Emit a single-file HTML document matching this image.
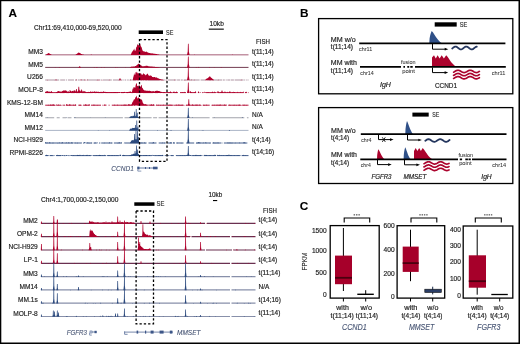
<!DOCTYPE html>
<html><head><meta charset="utf-8"><style>
html,body{margin:0;padding:0;background:#fff;}
body{width:520px;height:344px;overflow:hidden;font-family:"Liberation Sans",sans-serif;}
</style></head><body>
<svg width="520" height="344" viewBox="0 0 520 344" style="display:block;will-change:transform">
<rect x="0" y="0" width="520" height="344" fill="#fff"/>
<g font-family="Liberation Sans, sans-serif">
<text x="8.60" y="16.90" font-size="11.8" fill="#000" font-weight="bold" stroke="#000" stroke-width="0.1" >A</text>
<text x="34.00" y="29.90" font-size="7.4" fill="#1e1e1e" stroke="#1e1e1e" stroke-width="0.18" textLength="87.70" lengthAdjust="spacingAndGlyphs" >Chr11:69,410,000-69,520,000</text>
<rect x="138.7" y="30.4" width="24.3" height="3.6" fill="#000"/>
<text x="166.00" y="34.70" font-size="7.6" fill="#333" stroke="#333" stroke-width="0.18" textLength="7.30" lengthAdjust="spacingAndGlyphs" >SE</text>
<text x="209.50" y="25.70" font-size="7.0" fill="#1e1e1e" stroke="#1e1e1e" stroke-width="0.18" textLength="14.30" lengthAdjust="spacingAndGlyphs" >10kb</text>
<rect x="208.8" y="28.6" width="15" height="1.1" fill="#000"/>
<text x="256.00" y="43.80" font-size="6.6" fill="#1e1e1e" stroke="#1e1e1e" stroke-width="0.18" textLength="14.00" lengthAdjust="spacingAndGlyphs" >FISH</text>
<text x="42.90" y="54.20" font-size="7.4" fill="#1e1e1e" text-anchor="end" stroke="#1e1e1e" stroke-width="0.18" textLength="14.67" lengthAdjust="spacingAndGlyphs" >MM3</text>
<text x="252.00" y="53.60" font-size="6.6" fill="#1e1e1e" stroke="#1e1e1e" stroke-width="0.18" textLength="21.75" lengthAdjust="spacingAndGlyphs" >t(11;14)</text>
<text x="42.90" y="66.80" font-size="7.4" fill="#1e1e1e" text-anchor="end" stroke="#1e1e1e" stroke-width="0.18" textLength="14.67" lengthAdjust="spacingAndGlyphs" >MM5</text>
<text x="252.00" y="66.20" font-size="6.6" fill="#1e1e1e" stroke="#1e1e1e" stroke-width="0.18" textLength="21.75" lengthAdjust="spacingAndGlyphs" >t(11;14)</text>
<text x="42.90" y="79.40" font-size="7.4" fill="#1e1e1e" text-anchor="end" stroke="#1e1e1e" stroke-width="0.18" textLength="15.78" lengthAdjust="spacingAndGlyphs" >U266</text>
<text x="252.00" y="78.80" font-size="6.6" fill="#1e1e1e" stroke="#1e1e1e" stroke-width="0.18" textLength="21.75" lengthAdjust="spacingAndGlyphs" >t(11;14)</text>
<text x="42.90" y="92.00" font-size="7.4" fill="#1e1e1e" text-anchor="end" stroke="#1e1e1e" stroke-width="0.18" textLength="24.57" lengthAdjust="spacingAndGlyphs" >MOLP-8</text>
<text x="252.00" y="91.40" font-size="6.6" fill="#1e1e1e" stroke="#1e1e1e" stroke-width="0.18" textLength="21.75" lengthAdjust="spacingAndGlyphs" >t(11;14)</text>
<text x="42.90" y="104.60" font-size="7.4" fill="#1e1e1e" text-anchor="end" stroke="#1e1e1e" stroke-width="0.18" textLength="35.94" lengthAdjust="spacingAndGlyphs" >KMS-12-BM</text>
<text x="252.00" y="104.00" font-size="6.6" fill="#1e1e1e" stroke="#1e1e1e" stroke-width="0.18" textLength="21.75" lengthAdjust="spacingAndGlyphs" >t(11;14)</text>
<text x="42.90" y="117.20" font-size="7.4" fill="#1e1e1e" text-anchor="end" stroke="#1e1e1e" stroke-width="0.18" textLength="18.34" lengthAdjust="spacingAndGlyphs" >MM14</text>
<text x="252.00" y="116.60" font-size="6.6" fill="#1e1e1e" stroke="#1e1e1e" stroke-width="0.18" textLength="10.75" lengthAdjust="spacingAndGlyphs" >N/A</text>
<text x="42.90" y="129.80" font-size="7.4" fill="#1e1e1e" text-anchor="end" stroke="#1e1e1e" stroke-width="0.18" textLength="18.34" lengthAdjust="spacingAndGlyphs" >MM12</text>
<text x="252.00" y="129.20" font-size="6.6" fill="#1e1e1e" stroke="#1e1e1e" stroke-width="0.18" textLength="10.75" lengthAdjust="spacingAndGlyphs" >N/A</text>
<text x="42.90" y="142.40" font-size="7.4" fill="#1e1e1e" text-anchor="end" stroke="#1e1e1e" stroke-width="0.18" textLength="29.34" lengthAdjust="spacingAndGlyphs" >NCI-H929</text>
<text x="252.00" y="141.80" font-size="6.6" fill="#1e1e1e" stroke="#1e1e1e" stroke-width="0.18" textLength="18.64" lengthAdjust="spacingAndGlyphs" >t(4;14)</text>
<text x="42.90" y="155.00" font-size="7.4" fill="#1e1e1e" text-anchor="end" stroke="#1e1e1e" stroke-width="0.18" textLength="33.38" lengthAdjust="spacingAndGlyphs" >RPMI-8226</text>
<text x="252.00" y="154.40" font-size="6.6" fill="#1e1e1e" stroke="#1e1e1e" stroke-width="0.18" textLength="22.23" lengthAdjust="spacingAndGlyphs" >t(14;16)</text>
<path d="M45.2,54.80H248.5" stroke="#c393a4" stroke-width="1.5" stroke-opacity="1.0" fill="none"/>
<path d="M45.7,55.1L46.2,54.6L46.7,54.3L47.2,53.9L47.7,53.5L48.2,53.2L48.7,53.0L49.2,53.3L49.7,53.7L50.2,53.9L50.7,54.3L51.2,54.6L51.7,55.1ZM75.2,55.1L75.7,54.7L76.2,54.3L76.7,53.9L77.2,53.6L77.7,53.3L78.2,52.8L78.7,52.5L79.2,52.7L79.7,52.9L80.2,53.3L80.7,53.6L81.2,53.9L81.7,54.1L82.2,54.4L82.7,54.6L83.2,54.6L83.7,54.7L84.2,55.1ZM90.7,55.1L91.2,54.3L91.7,55.1ZM130.7,55.1L131.2,53.8L131.7,52.6L132.2,51.7L132.7,51.0L133.2,50.6L133.7,49.8L134.2,48.6L134.7,50.5L135.2,51.1L135.7,49.9L136.2,47.3L136.7,47.0L137.2,45.1L137.7,44.1L138.2,45.3L138.7,45.3L139.2,44.2L139.7,44.4L140.2,44.1L140.7,46.0L141.2,46.7L141.7,47.4L142.2,49.4L142.7,50.8L143.2,51.2L143.7,51.3L144.2,51.6L144.7,51.4L145.2,51.7L145.7,52.0L146.2,51.8L146.7,51.6L147.2,52.0L147.7,52.4L148.2,52.7L148.7,52.8L149.2,52.9L149.7,53.0L150.2,53.2L150.7,53.2L151.2,53.3L151.7,53.4L152.2,53.3L152.7,53.4L153.2,53.6L153.7,53.8L154.2,53.7L154.7,53.7L155.2,53.7L155.7,53.9L156.2,54.0L156.7,54.1L157.2,54.2L157.7,54.4L158.2,54.4L158.7,54.6L159.2,54.7L159.7,55.1ZM194.2,55.1L194.7,54.5L195.2,55.1ZM232.2,55.1L232.7,54.6L233.2,55.1ZM187.00,55.1L187.72,51.50L187.95,43.80L188.65,43.80L188.89,51.50L189.60,55.1Z" fill="#b0002c"/>
<path d="M45.2,67.40H248.5" stroke="#6a3048" stroke-width="0.95" stroke-opacity="1.0" fill="none"/>
<path d="M54.7,67.7L55.2,67.2L55.7,67.7ZM58.7,67.7L59.2,67.1L59.7,67.7ZM93.7,67.7L94.2,67.1L94.7,67.7ZM96.2,67.7L96.7,67.0L97.2,67.2L97.7,67.7ZM101.2,67.7L101.7,67.1L102.2,67.7ZM103.7,67.7L104.2,67.1L104.7,67.7ZM115.2,67.7L115.7,67.0L116.2,67.7ZM116.7,67.7L117.2,67.2L117.7,67.7ZM125.2,67.7L125.7,67.2L126.2,67.7ZM129.7,67.7L130.2,67.3L130.7,67.0L131.2,66.6L131.7,66.7L132.2,66.7L132.7,66.6L133.2,66.6L133.7,66.5L134.2,66.5L134.7,66.4L135.2,66.0L135.7,65.9L136.2,65.7L136.7,65.2L137.2,64.8L137.7,64.5L138.2,64.1L138.7,63.6L139.2,64.3L139.7,64.1L140.2,64.8L140.7,65.3L141.2,65.5L141.7,65.7L142.2,65.9L142.7,66.4L143.2,66.3L143.7,66.3L144.2,66.3L144.7,66.0L145.2,66.2L145.7,65.8L146.2,65.7L146.7,65.7L147.2,65.7L147.7,66.1L148.2,66.2L148.7,66.3L149.2,66.3L149.7,66.4L150.2,66.4L150.7,66.6L151.2,66.5L151.7,66.5L152.2,66.7L152.7,66.6L153.2,66.7L153.7,66.8L154.2,66.8L154.7,66.8L155.2,66.9L155.7,66.9L156.2,67.0L156.7,67.0L157.2,67.1L157.7,67.2L158.2,67.2L158.7,67.3L159.2,67.3L159.7,67.7ZM184.7,67.7L185.2,67.0L185.7,67.7ZM195.7,67.7L196.2,67.1L196.7,67.7ZM198.2,67.7L198.7,66.8L199.2,67.7ZM209.2,67.7L209.7,67.1L210.2,67.7ZM213.7,67.7L214.2,67.2L214.7,67.7ZM220.7,67.7L221.2,67.0L221.7,67.7ZM78.20,67.7L79.03,67.04L79.35,66.20L80.05,66.20L80.38,67.04L81.20,67.7ZM187.00,67.7L187.72,64.10L187.95,56.40L188.65,56.40L188.89,64.10L189.60,67.7Z" fill="#b0002c"/>
<path d="M45.2,80.00H59.2M60.2,80.00H65.2M66.1,80.00H67.1M68.0,80.00H74.0M75.0,80.00H77.0M77.8,80.00H79.8M80.6,80.00H85.6M86.7,80.00H98.7M99.3,80.00H100.3M100.9,80.00H101.9M102.8,80.00H111.8M112.9,80.00H119.9M120.5,80.00H122.5M123.4,80.00H124.4M125.0,80.00H126.0M126.8,80.00H127.8M128.3,80.00H129.3M129.9,80.00H131.9M132.4,80.00H136.4M137.2,80.00H139.2M140.4,80.00H142.4M143.2,80.00H144.2M145.2,80.00H147.2M147.7,80.00H159.7M160.7,80.00H163.7M164.2,80.00H165.2M165.8,80.00H166.8M167.4,80.00H176.4M177.1,80.00H180.1M180.8,80.00H182.8M183.6,80.00H187.6M188.6,80.00H199.6M200.6,80.00H205.6M206.6,80.00H207.6M208.4,80.00H211.4M212.1,80.00H222.1M222.8,80.00H224.8M225.7,80.00H226.7M227.3,80.00H230.3M230.9,80.00H233.9M234.6,80.00H243.6M244.2,80.00H245.2M246.3,80.00H247.3M247.8,80.00H248.5" stroke="#b096a4" stroke-width="1.2" stroke-opacity="1.0" fill="none"/>
<path d="M47.2,80.3L47.7,79.7L48.2,80.3ZM54.7,80.3L55.2,79.3L55.7,80.3ZM56.2,80.3L56.7,79.2L57.2,80.3ZM75.7,80.3L76.2,79.2L76.7,80.3ZM80.2,80.3L80.7,79.4L81.2,79.3L81.7,80.3ZM84.2,80.3L84.7,79.4L85.2,79.7L85.7,80.3ZM86.7,80.3L87.2,79.2L87.7,80.3ZM96.7,80.3L97.2,79.6L97.7,80.3ZM97.7,80.3L98.2,79.4L98.7,80.3ZM98.7,80.3L99.2,79.4L99.7,80.3ZM101.7,80.3L102.2,79.7L102.7,80.3ZM108.7,80.3L109.2,79.5L109.7,80.3ZM129.7,80.3L130.2,79.2L130.7,80.3ZM132.7,80.3L133.2,77.6L133.7,75.7L134.2,73.1L134.7,74.9L135.2,74.7L135.7,71.9L136.2,71.7L136.7,72.5L137.2,73.8L137.7,72.2L138.2,73.0L138.7,73.4L139.2,73.4L139.7,74.0L140.2,73.1L140.7,73.7L141.2,73.5L141.7,74.7L142.2,75.1L142.7,74.5L143.2,72.9L143.7,73.8L144.2,74.3L144.7,73.9L145.2,75.6L145.7,75.0L146.2,73.9L146.7,75.3L147.2,73.6L147.7,73.8L148.2,74.8L148.7,75.4L149.2,75.7L149.7,75.7L150.2,75.4L150.7,75.6L151.2,75.8L151.7,76.0L152.2,77.0L152.7,77.1L153.2,77.0L153.7,77.2L154.2,76.9L154.7,76.9L155.2,77.2L155.7,77.7L156.2,77.1L156.7,77.8L157.2,77.8L157.7,78.3L158.2,78.3L158.7,78.5L159.2,78.7L159.7,78.9L160.2,79.1L160.7,79.2L161.2,79.4L161.7,79.4L162.2,79.6L162.7,79.7L163.2,79.8L163.7,79.9L164.2,80.3ZM165.7,80.3L166.2,79.7L166.7,80.3ZM174.2,80.3L174.7,79.6L175.2,80.3ZM183.7,80.3L184.2,79.7L184.7,80.3ZM184.7,80.3L185.2,79.7L185.7,80.3ZM186.7,80.3L187.2,79.2L187.7,80.3ZM190.7,80.3L191.2,79.3L191.7,80.3ZM193.7,80.3L194.2,79.6L194.7,80.3ZM204.7,80.3L205.2,79.9L205.7,79.3L206.2,78.9L206.7,78.5L207.2,78.4L207.7,78.1L208.2,77.7L208.7,77.3L209.2,76.4L209.7,76.4L210.2,76.5L210.7,77.3L211.2,77.8L211.7,77.9L212.2,78.4L212.7,79.1L213.2,79.2L213.7,79.8L214.2,80.3ZM217.7,80.3L218.2,79.5L218.7,80.3ZM240.7,80.3L241.2,79.6L241.7,80.3ZM118.50,80.3L119.33,79.46L119.65,78.20L120.35,78.20L120.67,79.46L121.50,80.3ZM187.00,80.3L187.72,76.31L187.95,67.70L188.65,67.70L188.89,76.31L189.60,80.3Z" fill="#b0002c"/>
<path d="M45.2,92.60H58.2M59.6,92.60H64.6M66.2,92.60H69.2M70.9,92.60H74.9M76.0,92.60H80.0M81.6,92.60H92.6M94.5,92.60H96.5M97.6,92.60H103.6M105.2,92.60H118.2M121.0,92.60H124.0M126.4,92.60H128.4M131.1,92.60H133.1M136.0,92.60H141.0M142.9,92.60H152.9M155.0,92.60H158.0M159.8,92.60H160.8M162.7,92.60H172.7M173.7,92.60H177.7M180.0,92.60H186.0M187.8,92.60H188.8M190.1,92.60H196.1M198.3,92.60H199.3M202.2,92.60H203.2M205.8,92.60H215.8M217.7,92.60H243.7M244.9,92.60H246.9M247.9,92.60H248.5" stroke="#b0002c" stroke-width="1.0" stroke-opacity="0.9" fill="none"/>
<path d="M45.2,92.9L45.2,91.5L45.7,92.0L46.2,91.3L46.7,91.5L47.2,91.0L47.7,91.2L48.2,91.6L48.7,91.8L49.2,91.7L49.7,91.4L50.2,92.1L50.7,91.7L51.2,91.2L51.7,91.1L52.2,92.3L52.7,92.9ZM55.7,92.9L56.2,92.4L56.7,92.1L57.2,91.9L57.7,91.1L58.2,91.1L58.7,91.1L59.2,92.0L59.7,90.7L60.2,91.7L60.7,91.5L61.2,91.3L61.7,92.0L62.2,90.8L62.7,91.2L63.2,90.5L63.7,90.4L64.2,90.3L64.7,90.8L65.2,90.4L65.7,90.3L66.2,92.0L66.7,90.7L67.2,91.8L67.7,91.4L68.2,91.5L68.7,91.3L69.2,91.9L69.7,91.7L70.2,91.4L70.7,91.1L71.2,91.3L71.7,91.4L72.2,91.0L72.7,90.9L73.2,90.2L73.7,91.6L74.2,90.8L74.7,90.0L75.2,90.2L75.7,91.7L76.2,90.4L76.7,90.7L77.2,91.3L77.7,91.7L78.2,90.6L78.7,90.8L79.2,90.9L79.7,90.1L80.2,91.7L80.7,90.2L81.2,91.9L81.7,90.5L82.2,90.5L82.7,91.8L83.2,91.7L83.7,90.7L84.2,91.3L84.7,91.2L85.2,91.7L85.7,91.5L86.2,92.3L86.7,92.4L87.2,92.1L87.7,92.3L88.2,92.2L88.7,91.7L89.2,92.1L89.7,92.1L90.2,91.8L90.7,91.2L91.2,91.8L91.7,92.1L92.2,91.4L92.7,91.8L93.2,92.1L93.7,91.8L94.2,91.1L94.7,91.8L95.2,91.4L95.7,92.1L96.2,91.8L96.7,91.4L97.2,92.1L97.7,91.8L98.2,91.5L98.7,92.0L99.2,92.1L99.7,92.1L100.2,92.1L100.7,91.8L101.2,91.9L101.7,91.8L102.2,91.7L102.7,92.2L103.2,91.5L103.7,91.2L104.2,91.9L104.7,91.7L105.2,91.8L105.7,92.1L106.2,92.0L106.7,92.0L107.2,91.9L107.7,92.3L108.2,92.4L108.7,92.3L109.2,91.9L109.7,92.4L110.2,92.3L110.7,92.2L111.2,91.9L111.7,92.3L112.2,92.2L112.7,92.2L113.2,91.9L113.7,92.3L114.2,91.9L114.7,92.1L115.2,91.9L115.7,92.1L116.2,92.3L116.7,92.3L117.2,92.3L117.7,92.0L118.2,92.1L118.7,92.2L119.2,91.9L119.7,92.1L120.2,92.4L120.7,92.3L121.2,92.3L121.7,92.0L122.2,92.2L122.7,92.3L123.2,92.2L123.7,92.1L124.2,91.9L124.7,91.8L125.2,92.3L125.7,92.3L126.2,91.9L126.7,92.2L127.2,91.9L127.7,92.0L128.2,92.2L128.7,91.7L129.2,91.9L129.7,91.5L130.2,91.7L130.7,91.2L131.2,92.1L131.7,92.9ZM131.7,92.9L132.2,90.8L132.7,88.6L133.2,88.7L133.7,86.8L134.2,88.0L134.7,86.8L135.2,88.0L135.7,85.1L136.2,83.7L136.7,82.8L137.2,85.9L137.7,86.0L138.2,86.6L138.7,85.5L139.2,84.8L139.7,85.9L140.2,86.4L140.7,87.1L141.2,84.7L141.7,85.2L142.2,88.0L142.7,88.0L143.2,89.7L143.7,89.5L144.2,90.2L144.7,90.4L145.2,90.8L145.7,90.3L146.2,91.0L146.7,90.6L147.2,91.0L147.7,90.6L148.2,91.1L148.7,90.8L149.2,90.8L149.7,90.8L150.2,91.0L150.7,91.0L151.2,91.4L151.7,91.2L152.2,91.1L152.7,91.5L153.2,91.1L153.7,91.2L154.2,91.4L154.7,91.4L155.2,91.1L155.7,91.1L156.2,90.4L156.7,90.9L157.2,90.7L157.7,90.8L158.2,91.1L158.7,90.9L159.2,91.1L159.7,91.3L160.2,91.6L160.7,91.7L161.2,91.8L161.7,91.9L162.2,92.0L162.7,92.2L163.2,91.9L163.7,92.3L164.2,92.1L164.7,92.0L165.2,92.9ZM165.7,92.9L166.2,92.1L166.7,92.9ZM167.2,92.9L167.7,92.1L168.2,92.0L168.7,92.9ZM168.7,92.9L169.2,92.1L169.7,92.9ZM169.7,92.9L170.2,91.0L170.7,91.7L171.2,92.9ZM172.7,92.9L173.2,91.8L173.7,91.8L174.2,91.2L174.7,92.9ZM175.2,92.9L175.7,92.0L176.2,92.0L176.7,91.2L177.2,92.1L177.7,92.9ZM181.7,92.9L182.2,92.0L182.7,92.9ZM183.7,92.9L184.2,91.5L184.7,92.9ZM187.2,92.9L187.7,91.1L188.2,92.9ZM188.2,92.9L188.7,91.0L189.2,92.9ZM189.7,92.9L190.2,91.2L190.7,91.1L191.2,92.9ZM191.2,92.9L191.7,92.0L192.2,92.9ZM193.7,92.9L194.2,92.1L194.7,92.9ZM194.7,92.9L195.2,91.2L195.7,91.3L196.2,92.9ZM197.7,92.9L198.2,91.5L198.7,91.2L199.2,92.9ZM200.2,92.9L200.7,92.1L201.2,92.9ZM202.7,92.9L203.2,91.9L203.7,92.9ZM204.2,92.9L204.7,91.3L205.2,92.9ZM205.2,92.9L205.7,91.7L206.2,92.9ZM206.7,92.9L207.2,92.0L207.7,92.9ZM208.2,92.9L208.7,92.1L209.2,92.9ZM211.7,92.9L212.2,91.2L212.7,91.9L213.2,92.9ZM214.2,92.9L214.7,91.2L215.2,92.1L215.7,92.9ZM215.7,92.9L216.2,91.7L216.7,92.9ZM217.2,92.9L217.7,91.9L218.2,92.9ZM219.7,92.9L220.2,92.0L220.7,92.9ZM223.7,92.9L224.2,91.1L224.7,92.9ZM225.2,92.9L225.7,91.2L226.2,92.9ZM227.2,92.9L227.7,91.4L228.2,92.9ZM228.7,92.9L229.2,92.1L229.7,91.3L230.2,91.2L230.7,92.9ZM232.2,92.9L232.7,91.8L233.2,92.9ZM233.2,92.9L233.7,91.5L234.2,91.9L234.7,92.1L235.2,92.9ZM237.2,92.9L237.7,91.6L238.2,92.9ZM240.2,92.9L240.7,91.5L241.2,92.9ZM242.7,92.9L243.2,91.1L243.7,92.9ZM245.2,92.9L245.7,92.0L246.2,91.6L246.7,92.9ZM77.30,92.9L78.12,90.86L78.45,86.80L79.15,86.80L79.47,90.86L80.30,92.9ZM75.30,92.9L75.96,91.55L76.15,89.10L76.85,89.10L77.04,91.55L77.70,92.9ZM80.30,92.9L80.96,91.70L81.15,89.60L81.85,89.60L82.04,91.70L82.70,92.9ZM69.00,92.9L69.50,91.85L69.65,90.10L70.35,90.10L70.50,91.85L71.00,92.9ZM65.00,92.9L65.50,92.00L65.65,90.60L66.35,90.60L66.50,92.00L67.00,92.9ZM187.00,92.9L187.72,89.60L187.95,82.60L188.65,82.60L188.89,89.60L189.60,92.9ZM220.50,92.9L221.32,91.94L221.65,90.40L222.35,90.40L222.68,91.94L223.50,92.9ZM216.80,92.9L217.46,92.15L217.65,91.10L218.35,91.10L218.54,92.15L219.20,92.9Z" fill="#b0002c"/>
<path d="M45.2,105.20H55.2M56.5,105.20H60.5M63.1,105.20H65.1M66.2,105.20H76.2M78.3,105.20H81.3M83.4,105.20H89.4M91.0,105.20H101.0M103.7,105.20H105.7M108.6,105.20H109.6M111.8,105.20H132.8M134.1,105.20H135.1M137.5,105.20H147.5M149.6,105.20H154.6M156.2,105.20H173.2M174.4,105.20H183.4M185.9,105.20H200.9M202.7,105.20H209.7M212.0,105.20H226.0M228.2,105.20H241.2M242.4,105.20H248.5" stroke="#b0002c" stroke-width="1.0" stroke-opacity="0.9" fill="none"/>
<path d="M47.7,105.5L48.2,104.6L48.7,105.5ZM49.7,105.5L50.2,104.6L50.7,104.5L51.2,105.5ZM51.2,105.5L51.7,104.8L52.2,104.1L52.7,105.5ZM52.7,105.5L53.2,104.2L53.7,104.4L54.2,104.8L54.7,105.5ZM54.7,105.5L55.2,104.8L55.7,105.5ZM56.2,105.5L56.7,104.0L57.2,105.5ZM57.7,105.5L58.2,104.1L58.7,105.5ZM59.7,105.5L60.2,104.7L60.7,104.8L61.2,104.7L61.7,105.5ZM61.7,105.5L62.2,104.4L62.7,105.5ZM65.7,105.5L66.2,104.0L66.7,104.3L67.2,105.5ZM67.2,105.5L67.7,104.3L68.2,105.5ZM68.7,105.5L69.2,104.8L69.7,104.1L70.2,104.3L70.7,105.5ZM73.2,105.5L73.7,104.3L74.2,105.5ZM74.7,105.5L75.2,104.1L75.7,104.7L76.2,105.5ZM79.2,105.5L79.7,104.8L80.2,104.4L80.7,105.5ZM80.7,105.5L81.2,104.8L81.7,105.5ZM82.7,105.5L83.2,104.5L83.7,105.5ZM84.7,105.5L85.2,104.1L85.7,104.5L86.2,105.5ZM86.2,105.5L86.7,104.3L87.2,105.5ZM88.2,105.5L88.7,104.6L89.2,104.2L89.7,104.6L90.2,105.5ZM93.2,105.5L93.7,104.6L94.2,104.6L94.7,105.5ZM96.7,105.5L97.2,104.7L97.7,105.5ZM102.2,105.5L102.7,104.6L103.2,105.5ZM103.7,105.5L104.2,104.1L104.7,105.5ZM105.2,105.5L105.7,104.5L106.2,104.4L106.7,105.5ZM114.2,105.5L114.7,104.2L115.2,105.5ZM117.2,105.5L117.7,104.3L118.2,105.5ZM121.2,105.5L121.7,104.8L122.2,105.5ZM122.7,105.5L123.2,104.4L123.7,105.5ZM123.7,105.5L124.2,104.6L124.7,104.8L125.2,104.7L125.7,104.8L126.2,104.6L126.7,105.5ZM127.7,105.5L128.2,104.1L128.7,104.6L129.2,104.6L129.7,104.2L130.2,105.5ZM130.2,105.5L130.7,104.4L131.2,104.5L131.7,104.5L132.2,102.8L132.7,101.7L133.2,101.2L133.7,99.7L134.2,99.3L134.7,99.5L135.2,97.9L135.7,97.1L136.2,96.7L136.7,95.4L137.2,98.0L137.7,98.8L138.2,97.6L138.7,97.4L139.2,97.9L139.7,98.8L140.2,98.8L140.7,99.4L141.2,99.6L141.7,99.6L142.2,100.5L142.7,102.4L143.2,103.2L143.7,104.1L144.2,104.2L144.7,104.3L145.2,104.3L145.7,104.0L146.2,104.5L146.7,104.7L147.2,104.7L147.7,104.8L148.2,104.9L148.7,104.6L149.2,104.4L149.7,105.1L150.2,104.3L150.7,105.5ZM150.7,105.5L151.2,104.5L151.7,104.1L152.2,105.5ZM152.2,105.5L152.7,104.7L153.2,104.0L153.7,104.4L154.2,105.5ZM155.7,105.5L156.2,104.3L156.7,105.5ZM157.7,105.5L158.2,104.5L158.7,105.5ZM160.2,105.5L160.7,104.7L161.2,105.5ZM162.7,105.5L163.2,104.3L163.7,105.5ZM167.7,105.5L168.2,104.7L168.7,105.5ZM168.7,105.5L169.2,104.2L169.7,105.5ZM170.2,105.5L170.7,104.3L171.2,105.5ZM171.2,105.5L171.7,104.6L172.2,105.5ZM173.2,105.5L173.7,104.5L174.2,105.5ZM174.2,105.5L174.7,104.7L175.2,105.5ZM176.2,105.5L176.7,104.3L177.2,105.5ZM178.2,105.5L178.7,104.2L179.2,104.4L179.7,105.5ZM180.2,105.5L180.7,104.7L181.2,105.5ZM181.2,105.5L181.7,104.4L182.2,105.5ZM182.2,105.5L182.7,104.4L183.2,104.8L183.7,105.5ZM183.7,105.5L184.2,104.8L184.7,105.5ZM185.7,105.5L186.2,104.6L186.7,105.5ZM188.7,105.5L189.2,104.4L189.7,104.4L190.2,105.5ZM191.7,105.5L192.2,104.5L192.7,104.3L193.2,105.5ZM193.2,105.5L193.7,104.7L194.2,105.5ZM194.7,105.5L195.2,104.3L195.7,105.5ZM195.7,105.5L196.2,104.4L196.7,104.8L197.2,105.5ZM197.2,105.5L197.7,104.2L198.2,105.5ZM199.2,105.5L199.7,104.3L200.2,104.8L200.7,105.5ZM201.2,105.5L201.7,104.8L202.2,105.5ZM203.2,105.5L203.7,104.4L204.2,105.5ZM204.2,105.5L204.7,104.7L205.2,105.5ZM206.2,105.5L206.7,104.2L207.2,105.5ZM211.2,105.5L211.7,104.8L212.2,104.8L212.7,105.5ZM213.7,105.5L214.2,104.6L214.7,105.5ZM216.2,105.5L216.7,104.8L217.2,104.6L217.7,105.5ZM218.2,105.5L218.7,104.7L219.2,104.8L219.7,104.7L220.2,105.5ZM220.2,105.5L220.7,104.1L221.2,105.5ZM223.7,105.5L224.2,104.4L224.7,104.4L225.2,105.5ZM225.2,105.5L225.7,104.8L226.2,104.7L226.7,104.6L227.2,105.5ZM228.7,105.5L229.2,104.3L229.7,105.5ZM229.7,105.5L230.2,104.7L230.7,105.5ZM232.7,105.5L233.2,104.8L233.7,105.5ZM234.2,105.5L234.7,104.5L235.2,105.5ZM236.2,105.5L236.7,104.8L237.2,105.5ZM238.2,105.5L238.7,104.7L239.2,104.6L239.7,104.7L240.2,105.5ZM240.7,105.5L241.2,104.8L241.7,105.5ZM241.7,105.5L242.2,104.5L242.7,105.5ZM243.2,105.5L243.7,104.7L244.2,104.5L244.7,105.5ZM245.7,105.5L246.2,104.8L246.7,105.5ZM187.60,105.5L188.26,103.40L188.45,99.20L189.15,99.20L189.34,103.40L190.00,105.5Z" fill="#b0002c"/>
<path d="M45.2,117.80H54.2M56.7,117.80H59.7M62.5,117.80H66.5M67.5,117.80H71.5M73.9,117.80H122.9M124.5,117.80H136.5M137.6,117.80H151.6M153.1,117.80H157.1M158.6,117.80H209.6M212.3,117.80H244.3M246.9,117.80H248.5" stroke="#a2a4ac" stroke-width="1.1" stroke-opacity="1.0" fill="none"/>
<path d="M46.7,118.1L47.2,117.5L47.7,118.1ZM66.2,118.1L66.7,117.6L67.2,118.1ZM74.2,118.1L74.7,117.5L75.2,117.6L75.7,118.1ZM90.2,118.1L90.7,117.7L91.2,118.1ZM104.7,118.1L105.2,117.6L105.7,118.1ZM129.2,118.1L129.7,117.1L130.2,116.5L130.7,116.4L131.2,116.0L131.7,116.3L132.2,116.5L132.7,115.8L133.2,115.9L133.7,115.4L134.2,116.4L134.7,116.5L135.2,116.3L135.7,116.2L136.2,115.9L136.7,115.9L137.2,116.4L137.7,116.6L138.2,117.0L138.7,117.3L139.2,117.6L139.7,118.1ZM188.7,118.1L189.2,117.4L189.7,118.1ZM191.7,118.1L192.2,117.7L192.7,117.5L193.2,118.1ZM213.7,118.1L214.2,117.6L214.7,118.1ZM241.7,118.1L242.2,117.4L242.7,117.4L243.2,118.1ZM133.70,118.1L134.10,116.00L134.25,111.80L134.95,111.80L135.10,116.00L135.50,118.1ZM135.30,118.1L135.70,115.16L135.85,109.00L136.55,109.00L136.70,115.16L137.10,118.1ZM136.50,118.1L136.80,116.30L136.95,112.80L137.65,112.80L137.80,116.30L138.10,118.1ZM187.10,118.1L187.76,114.80L187.95,107.80L188.65,107.80L188.84,114.80L189.50,118.1Z" fill="#2c4a7e"/>
<path d="M45.2,130.40H248.5" stroke="#aab4c6" stroke-width="1.0" stroke-opacity="1.0" fill="none"/>
<path d="M97.7,130.7L98.2,130.2L98.7,130.7ZM109.2,130.7L109.7,130.3L110.2,130.7ZM129.2,130.7L129.7,129.6L130.2,128.8L130.7,128.4L131.2,129.0L131.7,128.3L132.2,128.2L132.7,127.7L133.2,128.0L133.7,128.1L134.2,128.0L134.7,127.7L135.2,128.2L135.7,127.8L136.2,128.2L136.7,128.2L137.2,128.6L137.7,128.4L138.2,128.7L138.7,129.5L139.2,130.0L139.7,130.7ZM157.2,130.7L157.7,130.0L158.2,130.7ZM169.7,130.7L170.2,130.2L170.7,130.7ZM170.7,130.7L171.2,130.1L171.7,130.7ZM201.7,130.7L202.2,130.2L202.7,130.7ZM202.7,130.7L203.2,130.2L203.7,130.7ZM228.7,130.7L229.2,130.2L229.7,130.1L230.2,130.7ZM134.50,130.7L134.90,128.75L135.05,124.90L135.75,124.90L135.90,128.75L136.30,130.7ZM135.90,130.7L136.30,127.40L136.45,120.40L137.15,120.40L137.30,127.40L137.70,130.7ZM137.20,130.7L137.50,129.20L137.65,126.40L138.35,126.40L138.50,129.20L138.80,130.7ZM187.10,130.7L187.76,126.95L187.95,118.90L188.65,118.90L188.84,126.95L189.50,130.7Z" fill="#2c4a7e"/>
<path d="M45.2,143.00H73.2M74.4,143.00H81.4M83.1,143.00H84.1M86.2,143.00H92.2M93.6,143.00H96.6M99.3,143.00H100.3M101.5,143.00H112.5M113.9,143.00H121.9M124.6,143.00H146.6M148.5,143.00H156.5M158.7,143.00H165.7M167.9,143.00H171.9M172.9,143.00H174.9M176.2,143.00H183.2M186.2,143.00H194.2M196.0,143.00H211.0M212.5,143.00H221.5M223.9,143.00H246.9M248.5,143.00H248.5" stroke="#2c4a7e" stroke-width="1.0" stroke-opacity="0.9" fill="none"/>
<path d="M45.2,143.3L45.2,142.0L45.7,142.3L46.2,142.6L46.7,143.3ZM46.7,143.3L47.2,142.3L47.7,143.3ZM48.7,143.3L49.2,142.2L49.7,142.6L50.2,142.6L50.7,143.3ZM51.7,143.3L52.2,142.6L52.7,143.3ZM52.7,143.3L53.2,142.4L53.7,143.3ZM57.2,143.3L57.7,142.7L58.2,143.3ZM58.7,143.3L59.2,142.1L59.7,143.3ZM60.7,143.3L61.2,142.6L61.7,143.3ZM61.7,143.3L62.2,142.2L62.7,142.3L63.2,143.3ZM64.7,143.3L65.2,142.7L65.7,143.3ZM66.2,143.3L66.7,142.1L67.2,143.3ZM67.7,143.3L68.2,142.6L68.7,142.6L69.2,142.5L69.7,143.3ZM70.7,143.3L71.2,142.5L71.7,142.3L72.2,143.3ZM72.2,143.3L72.7,142.2L73.2,143.3ZM73.2,143.3L73.7,142.2L74.2,143.3ZM74.2,143.3L74.7,142.5L75.2,142.5L75.7,143.3ZM76.7,143.3L77.2,142.7L77.7,142.7L78.2,143.3ZM80.7,143.3L81.2,142.7L81.7,142.5L82.2,143.3ZM83.7,143.3L84.2,142.2L84.7,142.1L85.2,142.0L85.7,143.3ZM86.7,143.3L87.2,142.0L87.7,143.3ZM87.7,143.3L88.2,142.4L88.7,143.3ZM89.2,143.3L89.7,142.7L90.2,143.3ZM90.7,143.3L91.2,142.5L91.7,143.3ZM93.7,143.3L94.2,142.6L94.7,143.3ZM94.7,143.3L95.2,142.3L95.7,143.3ZM96.2,143.3L96.7,142.5L97.2,143.3ZM97.2,143.3L97.7,142.0L98.2,143.3ZM99.2,143.3L99.7,142.6L100.2,143.3ZM101.2,143.3L101.7,142.4L102.2,143.3ZM103.7,143.3L104.2,142.6L104.7,143.3ZM108.7,143.3L109.2,142.2L109.7,142.5L110.2,143.3ZM111.2,143.3L111.7,142.4L112.2,143.3ZM117.2,143.3L117.7,142.7L118.2,143.3ZM118.2,143.3L118.7,142.5L119.2,142.2L119.7,142.6L120.2,143.3ZM120.7,143.3L121.2,142.1L121.7,143.3ZM123.7,143.3L124.2,142.2L124.7,143.3ZM129.7,143.3L130.2,142.4L130.7,141.7L131.2,141.1L131.7,140.3L132.2,140.1L132.7,140.3L133.2,140.4L133.7,139.7L134.2,139.8L134.7,139.7L135.2,139.2L135.7,139.1L136.2,138.9L136.7,139.2L137.2,139.4L137.7,140.2L138.2,139.6L138.7,140.5L139.2,141.9L139.7,142.2L140.2,142.7L140.7,143.3ZM140.7,143.3L141.2,142.3L141.7,143.3ZM141.7,143.3L142.2,142.6L142.7,143.3ZM143.7,143.3L144.2,142.6L144.7,142.6L145.2,143.3ZM145.2,143.3L145.7,142.7L146.2,143.3ZM151.7,143.3L152.2,142.6L152.7,143.3ZM152.7,143.3L153.2,142.2L153.7,142.1L154.2,143.3ZM161.7,143.3L162.2,142.2L162.7,143.3ZM164.2,143.3L164.7,142.6L165.2,143.3ZM166.7,143.3L167.2,142.5L167.7,142.5L168.2,143.3ZM169.7,143.3L170.2,142.3L170.7,142.6L171.2,143.3ZM171.2,143.3L171.7,142.0L172.2,143.3ZM173.2,143.3L173.7,142.0L174.2,142.4L174.7,143.3ZM177.2,143.3L177.7,142.6L178.2,143.3ZM180.7,143.3L181.2,142.7L181.7,143.3ZM182.7,143.3L183.2,142.6L183.7,143.3ZM187.7,143.3L188.2,142.2L188.7,142.1L189.2,143.3ZM195.7,143.3L196.2,142.7L196.7,143.3ZM196.7,143.3L197.2,142.2L197.7,143.3ZM197.7,143.3L198.2,142.3L198.7,142.1L199.2,142.7L199.7,142.3L200.2,142.6L200.7,143.3ZM202.7,143.3L203.2,142.2L203.7,143.3ZM205.2,143.3L205.7,142.0L206.2,142.4L206.7,143.3ZM209.2,143.3L209.7,142.7L210.2,143.3ZM212.7,143.3L213.2,142.3L213.7,142.7L214.2,142.5L214.7,143.3ZM214.7,143.3L215.2,142.5L215.7,143.3ZM215.7,143.3L216.2,142.4L216.7,143.3ZM217.2,143.3L217.7,142.3L218.2,143.3ZM218.2,143.3L218.7,142.2L219.2,143.3ZM222.2,143.3L222.7,142.6L223.2,143.3ZM227.2,143.3L227.7,142.2L228.2,143.3ZM228.2,143.3L228.7,142.6L229.2,142.3L229.7,143.3ZM229.7,143.3L230.2,142.3L230.7,143.3ZM230.7,143.3L231.2,142.5L231.7,143.3ZM231.7,143.3L232.2,142.6L232.7,143.3ZM234.7,143.3L235.2,142.5L235.7,143.3ZM239.2,143.3L239.7,142.2L240.2,143.3ZM243.2,143.3L243.7,142.0L244.2,142.4L244.7,142.3L245.2,142.6L245.7,143.3ZM246.7,143.3L247.2,142.5L247.7,143.3ZM133.60,143.3L134.00,140.30L134.15,134.00L134.85,134.00L135.00,140.30L135.40,143.3ZM135.10,143.3L135.50,139.10L135.65,130.00L136.35,130.00L136.50,139.10L136.90,143.3ZM136.60,143.3L137.00,139.40L137.15,131.00L137.85,131.00L138.00,139.40L138.40,143.3ZM137.70,143.3L138.00,141.20L138.15,137.00L138.85,137.00L139.00,141.20L139.30,143.3ZM187.10,143.3L187.76,139.10L187.95,130.00L188.65,130.00L188.84,139.10L189.50,143.3Z" fill="#2c4a7e"/>
<path d="M45.2,155.60H48.2M49.6,155.60H53.6M56.2,155.60H61.2M63.6,155.60H65.6M68.5,155.60H69.5M72.0,155.60H91.0M93.2,155.60H106.2M107.3,155.60H119.3M121.9,155.60H131.9M134.7,155.60H151.7M154.3,155.60H163.3M164.8,155.60H165.8M166.8,155.60H168.8M170.8,155.60H173.8M176.2,155.60H186.2M187.6,155.60H188.6M191.3,155.60H201.3M203.7,155.60H215.7M217.1,155.60H240.1M241.6,155.60H248.5" stroke="#2c4a7e" stroke-width="1.0" stroke-opacity="0.9" fill="none"/>
<path d="M45.7,155.9L46.2,154.6L46.7,155.0L47.2,155.9ZM47.2,155.9L47.7,155.0L48.2,155.9ZM48.2,155.9L48.7,155.1L49.2,155.9ZM50.2,155.9L50.7,155.2L51.2,155.0L51.7,155.9ZM53.7,155.9L54.2,155.1L54.7,155.9ZM55.7,155.9L56.2,155.2L56.7,155.2L57.2,155.9ZM57.2,155.9L57.7,154.6L58.2,155.9ZM58.2,155.9L58.7,155.1L59.2,155.9ZM59.2,155.9L59.7,155.1L60.2,155.9ZM60.2,155.9L60.7,154.9L61.2,154.9L61.7,155.9ZM61.7,155.9L62.2,155.3L62.7,155.0L63.2,155.3L63.7,155.9ZM65.7,155.9L66.2,154.9L66.7,154.9L67.2,155.9ZM67.2,155.9L67.7,155.0L68.2,155.9ZM68.2,155.9L68.7,155.2L69.2,155.9ZM69.7,155.9L70.2,154.8L70.7,155.9ZM70.7,155.9L71.2,154.9L71.7,155.1L72.2,155.9ZM73.2,155.9L73.7,155.1L74.2,155.9ZM76.7,155.9L77.2,154.7L77.7,155.1L78.2,155.0L78.7,155.2L79.2,155.9ZM79.2,155.9L79.7,154.7L80.2,154.7L80.7,155.9ZM81.7,155.9L82.2,154.8L82.7,155.9ZM82.7,155.9L83.2,154.5L83.7,155.9ZM85.7,155.9L86.2,154.7L86.7,155.3L87.2,155.9ZM87.2,155.9L87.7,154.6L88.2,155.9ZM88.7,155.9L89.2,155.3L89.7,155.1L90.2,155.9ZM91.2,155.9L91.7,154.9L92.2,155.3L92.7,155.9ZM93.2,155.9L93.7,155.0L94.2,155.9ZM95.7,155.9L96.2,154.8L96.7,155.9ZM97.7,155.9L98.2,155.3L98.7,155.9ZM98.7,155.9L99.2,154.9L99.7,154.7L100.2,155.3L100.7,155.0L101.2,155.9ZM101.7,155.9L102.2,155.0L102.7,155.9ZM103.7,155.9L104.2,154.5L104.7,155.9ZM106.7,155.9L107.2,154.9L107.7,155.9ZM107.7,155.9L108.2,154.8L108.7,155.9ZM108.7,155.9L109.2,154.8L109.7,155.9ZM110.7,155.9L111.2,154.9L111.7,155.9ZM112.2,155.9L112.7,154.7L113.2,155.9ZM114.2,155.9L114.7,154.9L115.2,155.9ZM116.2,155.9L116.7,155.2L117.2,155.9ZM117.2,155.9L117.7,155.3L118.2,155.9ZM119.2,155.9L119.7,154.7L120.2,154.7L120.7,154.6L121.2,155.9ZM122.7,155.9L123.2,155.1L123.7,154.7L124.2,155.2L124.7,155.2L125.2,155.9ZM128.7,155.9L129.2,155.2L129.7,155.9ZM129.7,155.9L130.2,155.0L130.7,155.3L131.2,154.9L131.7,154.1L132.2,154.5L132.7,154.2L133.2,153.7L133.7,153.7L134.2,153.9L134.7,153.0L135.2,153.2L135.7,153.4L136.2,153.6L136.7,152.8L137.2,153.6L137.7,153.7L138.2,154.1L138.7,153.9L139.2,154.7L139.7,155.3L140.2,154.7L140.7,155.9ZM140.7,155.9L141.2,155.2L141.7,155.9ZM143.2,155.9L143.7,155.1L144.2,155.2L144.7,155.9ZM144.7,155.9L145.2,154.8L145.7,155.9ZM145.7,155.9L146.2,154.9L146.7,155.0L147.2,155.9ZM148.7,155.9L149.2,155.0L149.7,155.3L150.2,155.9ZM151.2,155.9L151.7,154.7L152.2,155.9ZM152.2,155.9L152.7,154.8L153.2,155.0L153.7,155.3L154.2,155.9ZM154.2,155.9L154.7,155.2L155.2,155.2L155.7,155.9ZM158.2,155.9L158.7,154.8L159.2,155.9ZM159.2,155.9L159.7,155.1L160.2,155.9ZM160.2,155.9L160.7,154.9L161.2,155.9ZM161.7,155.9L162.2,154.8L162.7,155.0L163.2,155.9ZM164.7,155.9L165.2,155.2L165.7,155.9ZM166.2,155.9L166.7,155.1L167.2,155.9ZM167.2,155.9L167.7,154.9L168.2,155.9ZM168.7,155.9L169.2,155.2L169.7,155.9ZM170.2,155.9L170.7,155.2L171.2,155.0L171.7,155.9ZM171.7,155.9L172.2,155.2L172.7,155.9ZM175.7,155.9L176.2,154.7L176.7,155.9ZM179.7,155.9L180.2,155.1L180.7,155.9ZM181.7,155.9L182.2,155.0L182.7,155.9ZM184.2,155.9L184.7,155.3L185.2,155.9ZM185.7,155.9L186.2,154.7L186.7,155.2L187.2,155.3L187.7,155.9ZM189.2,155.9L189.7,155.2L190.2,154.9L190.7,154.9L191.2,155.9ZM193.2,155.9L193.7,155.1L194.2,155.9ZM194.7,155.9L195.2,155.0L195.7,154.7L196.2,155.9ZM196.2,155.9L196.7,154.5L197.2,155.9ZM197.2,155.9L197.7,154.9L198.2,155.9ZM198.2,155.9L198.7,155.3L199.2,155.3L199.7,155.9ZM199.7,155.9L200.2,154.7L200.7,155.3L201.2,155.9ZM201.2,155.9L201.7,155.1L202.2,155.2L202.7,155.9ZM204.2,155.9L204.7,154.6L205.2,155.9ZM205.2,155.9L205.7,154.8L206.2,155.3L206.7,154.7L207.2,155.9ZM208.7,155.9L209.2,154.8L209.7,155.9ZM210.2,155.9L210.7,154.9L211.2,155.9ZM213.2,155.9L213.7,155.0L214.2,155.9ZM214.2,155.9L214.7,154.5L215.2,155.0L215.7,154.7L216.2,155.9ZM216.7,155.9L217.2,154.6L217.7,155.9ZM218.2,155.9L218.7,155.2L219.2,155.9ZM219.2,155.9L219.7,154.6L220.2,155.9ZM220.7,155.9L221.2,154.9L221.7,155.9ZM222.7,155.9L223.2,155.0L223.7,155.9ZM225.7,155.9L226.2,155.3L226.7,155.3L227.2,154.9L227.7,154.9L228.2,155.9ZM228.2,155.9L228.7,154.5L229.2,154.6L229.7,155.9ZM230.2,155.9L230.7,154.8L231.2,155.9ZM231.2,155.9L231.7,155.0L232.2,155.9ZM233.7,155.9L234.2,154.8L234.7,155.9ZM236.7,155.9L237.2,155.1L237.7,155.9ZM238.2,155.9L238.7,155.0L239.2,155.9ZM239.7,155.9L240.2,154.9L240.7,155.9ZM242.2,155.9L242.7,155.2L243.2,155.9ZM243.2,155.9L243.7,154.5L244.2,155.9ZM244.7,155.9L245.2,155.3L245.7,155.9ZM135.50,155.9L135.90,152.60L136.05,145.60L136.75,145.60L136.90,152.60L137.30,155.9ZM136.80,155.9L137.10,153.80L137.25,149.60L137.95,149.60L138.10,153.80L138.40,155.9ZM134.20,155.9L134.50,154.25L134.65,151.10L135.35,151.10L135.50,154.25L135.80,155.9ZM187.10,155.9L187.76,152.75L187.95,146.10L188.65,146.10L188.84,152.75L189.50,155.9Z" fill="#2c4a7e"/>
<rect x="139.5" y="39.7" width="27.5" height="121.6" fill="none" stroke="#000" stroke-width="1.3" stroke-dasharray="2.3 2.0"/>
<text x="111.30" y="171.00" font-size="7.5" fill="#465473" font-style="italic" stroke="#465473" stroke-width="0.1" textLength="22.50" lengthAdjust="spacingAndGlyphs" >CCND1</text>
<line x1="137.3" y1="168" x2="157.5" y2="168" stroke="#3d5688" stroke-width="0.8"/>
<rect x="137.3" y="166.6" width="2.2" height="2.8" fill="#3d5688"/>
<rect x="145" y="167" width="1" height="2" fill="#3d5688"/>
<rect x="149" y="167" width="1" height="2" fill="#3d5688"/>
<rect x="153" y="166.7" width="4.5" height="2.6" fill="#3d5688"/>
<path d="M137.8,169.5 v1.6 h3.5" fill="none" stroke="#3d5688" stroke-width="0.6"/>
<text x="41.00" y="201.50" font-size="7.2" fill="#1e1e1e" stroke="#1e1e1e" stroke-width="0.18" textLength="77.50" lengthAdjust="spacingAndGlyphs" >Chr4:1,700,000-2,150,000</text>
<rect x="134.3" y="202.3" width="20.2" height="3.5" fill="#000"/>
<text x="156.60" y="206.40" font-size="7.6" fill="#333" stroke="#333" stroke-width="0.18" textLength="7.80" lengthAdjust="spacingAndGlyphs" >SE</text>
<text x="208.50" y="197.00" font-size="7.0" fill="#1e1e1e" stroke="#1e1e1e" stroke-width="0.18" textLength="13.80" lengthAdjust="spacingAndGlyphs" >10kb</text>
<rect x="213" y="200" width="4.2" height="1.1" fill="#000"/>
<text x="263.10" y="212.80" font-size="6.6" fill="#1e1e1e" stroke="#1e1e1e" stroke-width="0.18" textLength="13.90" lengthAdjust="spacingAndGlyphs" >FISH</text>
<text x="37.80" y="222.50" font-size="7.2" fill="#1e1e1e" text-anchor="end" stroke="#1e1e1e" stroke-width="0.18" textLength="14.67" lengthAdjust="spacingAndGlyphs" >MM2</text>
<text x="258.60" y="222.20" font-size="6.6" fill="#1e1e1e" stroke="#1e1e1e" stroke-width="0.18" textLength="18.64" lengthAdjust="spacingAndGlyphs" >t(4;14)</text>
<text x="37.80" y="235.80" font-size="7.2" fill="#1e1e1e" text-anchor="end" stroke="#1e1e1e" stroke-width="0.18" textLength="20.90" lengthAdjust="spacingAndGlyphs" >OPM-2</text>
<text x="258.60" y="235.50" font-size="6.6" fill="#1e1e1e" stroke="#1e1e1e" stroke-width="0.18" textLength="18.64" lengthAdjust="spacingAndGlyphs" >t(4;14)</text>
<text x="37.80" y="249.10" font-size="7.2" fill="#1e1e1e" text-anchor="end" stroke="#1e1e1e" stroke-width="0.18" textLength="29.34" lengthAdjust="spacingAndGlyphs" >NCI-H929</text>
<text x="258.60" y="248.80" font-size="6.6" fill="#1e1e1e" stroke="#1e1e1e" stroke-width="0.18" textLength="18.64" lengthAdjust="spacingAndGlyphs" >t(4;14)</text>
<text x="37.80" y="262.40" font-size="7.2" fill="#1e1e1e" text-anchor="end" stroke="#1e1e1e" stroke-width="0.18" textLength="13.94" lengthAdjust="spacingAndGlyphs" >LP-1</text>
<text x="258.60" y="262.10" font-size="6.6" fill="#1e1e1e" stroke="#1e1e1e" stroke-width="0.18" textLength="18.64" lengthAdjust="spacingAndGlyphs" >t(4;14)</text>
<text x="37.80" y="275.70" font-size="7.2" fill="#1e1e1e" text-anchor="end" stroke="#1e1e1e" stroke-width="0.18" textLength="14.67" lengthAdjust="spacingAndGlyphs" >MM3</text>
<text x="258.60" y="275.40" font-size="6.6" fill="#1e1e1e" stroke="#1e1e1e" stroke-width="0.18" textLength="21.75" lengthAdjust="spacingAndGlyphs" >t(11;14)</text>
<text x="37.80" y="289.00" font-size="7.2" fill="#1e1e1e" text-anchor="end" stroke="#1e1e1e" stroke-width="0.18" textLength="18.34" lengthAdjust="spacingAndGlyphs" >MM14</text>
<text x="258.60" y="288.70" font-size="6.6" fill="#1e1e1e" stroke="#1e1e1e" stroke-width="0.18" textLength="10.75" lengthAdjust="spacingAndGlyphs" >N/A</text>
<text x="37.80" y="302.30" font-size="7.2" fill="#1e1e1e" text-anchor="end" stroke="#1e1e1e" stroke-width="0.18" textLength="19.80" lengthAdjust="spacingAndGlyphs" >MM.1s</text>
<text x="258.60" y="302.00" font-size="6.6" fill="#1e1e1e" stroke="#1e1e1e" stroke-width="0.18" textLength="22.23" lengthAdjust="spacingAndGlyphs" >t(14;16)</text>
<text x="37.80" y="315.60" font-size="7.2" fill="#1e1e1e" text-anchor="end" stroke="#1e1e1e" stroke-width="0.18" textLength="24.57" lengthAdjust="spacingAndGlyphs" >MOLP-8</text>
<text x="258.60" y="315.30" font-size="6.6" fill="#1e1e1e" stroke="#1e1e1e" stroke-width="0.18" textLength="21.75" lengthAdjust="spacingAndGlyphs" >t(11;14)</text>
<path d="M41.2,223.40H205.0M207.0,223.40H255.5" stroke="#6a3050" stroke-width="1.2" stroke-opacity="1.0" fill="none"/>
<path d="M45.2,223.7L45.7,223.1L46.2,223.7ZM62.7,223.7L63.2,223.1L63.7,223.7ZM68.7,223.7L69.2,222.9L69.7,223.7ZM71.2,223.7L71.7,222.8L72.2,223.7ZM84.2,223.7L84.7,223.0L85.2,223.1L85.7,223.7ZM88.7,223.7L89.2,221.3L89.7,220.4L90.2,221.6L90.7,221.7L91.2,222.0L91.7,221.8L92.2,222.4L92.7,222.2L93.2,221.8L93.7,222.3L94.2,222.0L94.7,222.8L95.2,222.8L95.7,222.3L96.2,222.3L96.7,222.7L97.2,222.2L97.7,222.2L98.2,222.3L98.7,222.4L99.2,222.6L99.7,222.9L100.2,222.3L100.7,222.9L101.2,222.6L101.7,222.8L102.2,222.7L102.7,222.2L103.2,222.6L103.7,222.2L104.2,222.1L104.7,222.4L105.2,222.7L105.7,222.5L106.2,222.2L106.7,222.7L107.2,222.8L107.7,222.2L108.2,222.3L108.7,222.5L109.2,222.7L109.7,222.0L110.2,222.4L110.7,222.8L111.2,222.4L111.7,222.5L112.2,222.6L112.7,222.4L113.2,222.2L113.7,222.4L114.2,222.4L114.7,222.2L115.2,222.7L115.7,222.2L116.2,222.3L116.7,222.6L117.2,222.6L117.7,222.7L118.2,222.4L118.7,222.0L119.2,222.6L119.7,222.6L120.2,222.4L120.7,222.5L121.2,222.2L121.7,222.1L122.2,222.2L122.7,221.8L123.2,222.4L123.7,222.6L124.2,221.9L124.7,222.5L125.2,222.4L125.7,221.9L126.2,221.8L126.7,222.4L127.2,222.0L127.7,222.1L128.2,222.4L128.7,222.5L129.2,222.6L129.7,222.4L130.2,222.2L130.7,222.0L131.2,222.2L131.7,222.3L132.2,222.6L132.7,222.7L133.2,222.5L133.7,222.6L134.2,223.0L134.7,222.8L135.2,223.7ZM153.2,223.7L153.7,222.6L154.2,223.7ZM160.2,223.7L160.7,222.8L161.2,223.7ZM171.2,223.7L171.7,223.0L172.2,223.7ZM177.7,223.7L178.2,223.0L178.7,223.7ZM188.2,223.7L188.7,222.8L189.2,223.0L189.7,223.7ZM189.7,223.7L190.2,223.1L190.7,223.7ZM203.2,223.7L203.7,223.0L204.2,223.7ZM205.7,223.7L206.2,222.8L206.7,223.7ZM245.2,223.7L245.7,222.8L246.2,223.7ZM248.2,223.7L248.7,223.2L249.2,223.7ZM254.2,223.7L254.7,222.8L255.2,223.7ZM40.80,223.7L40.90,222.80L41.05,221.40L41.75,221.40L41.90,222.80L42.00,223.7ZM52.80,223.7L53.30,221.15L53.45,215.90L54.15,215.90L54.30,221.15L54.80,223.7ZM56.30,223.7L56.80,222.20L56.95,219.40L57.65,219.40L57.80,222.20L58.30,223.7ZM91.20,223.7L91.50,222.65L91.65,220.90L92.35,220.90L92.50,222.65L92.80,223.7ZM105.20,223.7L105.50,222.80L105.65,221.40L106.35,221.40L106.50,222.80L106.80,223.7ZM111.20,223.7L111.50,222.74L111.65,221.20L112.35,221.20L112.50,222.74L112.80,223.7ZM116.70,223.7L117.20,221.30L117.35,216.40L118.05,216.40L118.20,221.30L118.70,223.7ZM119.20,223.7L119.50,222.50L119.65,220.40L120.35,220.40L120.50,222.50L120.80,223.7ZM123.40,223.7L123.90,222.50L124.05,220.40L124.75,220.40L124.90,222.50L125.40,223.7ZM140.20,223.7L140.50,222.65L140.65,220.90L141.35,220.90L141.50,222.65L141.80,223.7ZM149.20,223.7L149.50,222.80L149.65,221.40L150.35,221.40L150.50,222.80L150.80,223.7ZM184.60,223.7L185.10,221.30L185.25,216.40L185.95,216.40L186.10,221.30L186.60,223.7ZM199.90,223.7L200.10,223.04L200.25,222.20L200.95,222.20L201.10,223.04L201.30,223.7Z" fill="#b0002c"/>
<path d="M41.2,236.70H190.0M191.5,236.70H230.0M231.5,236.70H255.5" stroke="#6a3050" stroke-width="1.2" stroke-opacity="1.0" fill="none"/>
<path d="M48.2,237.0L48.7,236.3L49.2,236.4L49.7,237.0ZM58.7,237.0L59.2,236.4L59.7,237.0ZM63.7,237.0L64.2,236.0L64.7,237.0ZM64.7,237.0L65.2,236.2L65.7,237.0ZM68.2,237.0L68.7,236.0L69.2,237.0ZM69.7,237.0L70.2,236.1L70.7,236.2L71.2,237.0ZM71.2,237.0L71.7,236.4L72.2,236.4L72.7,237.0ZM75.7,237.0L76.2,236.3L76.7,237.0ZM77.7,237.0L78.2,236.4L78.7,236.3L79.2,237.0ZM79.7,237.0L80.2,236.3L80.7,236.1L81.2,237.0ZM87.2,237.0L87.7,236.1L88.2,237.0ZM89.2,237.0L89.7,231.3L90.2,229.0L90.7,230.8L91.2,231.3L91.7,230.0L92.2,230.5L92.7,231.1L93.2,232.3L93.7,233.0L94.2,234.0L94.7,234.0L95.2,235.0L95.7,234.9L96.2,235.4L96.7,235.7L97.2,236.1L97.7,237.0ZM97.7,237.0L98.2,236.3L98.7,237.0ZM105.2,237.0L105.7,235.8L106.2,237.0ZM111.2,237.0L111.7,236.0L112.2,236.0L112.7,237.0ZM113.2,237.0L113.7,235.8L114.2,236.4L114.7,236.4L115.2,237.0ZM124.2,237.0L124.7,236.1L125.2,237.0ZM125.2,237.0L125.7,236.0L126.2,237.0ZM129.7,237.0L130.2,236.4L130.7,237.0ZM130.7,237.0L131.2,236.1L131.7,237.0ZM133.7,237.0L134.2,235.9L134.7,237.0ZM138.2,237.0L138.7,236.0L139.2,237.0ZM139.2,237.0L139.7,236.3L140.2,237.0ZM142.2,237.0L142.7,231.8L143.2,231.9L143.7,231.4L144.2,232.0L144.7,233.2L145.2,234.3L145.7,233.8L146.2,234.9L146.7,234.5L147.2,234.6L147.7,234.7L148.2,235.4L148.7,235.5L149.2,235.3L149.7,235.2L150.2,235.4L150.7,235.6L151.2,235.7L151.7,236.4L152.2,236.3L152.7,237.0ZM163.7,237.0L164.2,236.4L164.7,237.0ZM170.2,237.0L170.7,236.3L171.2,237.0ZM177.2,237.0L177.7,236.2L178.2,237.0ZM186.7,237.0L187.2,236.0L187.7,237.0ZM189.7,237.0L190.2,235.9L190.7,237.0ZM197.2,237.0L197.7,236.3L198.2,237.0ZM202.7,237.0L203.2,236.2L203.7,237.0ZM206.2,237.0L206.7,236.1L207.2,237.0ZM207.2,237.0L207.7,236.3L208.2,237.0ZM209.7,237.0L210.2,236.3L210.7,235.9L211.2,237.0ZM214.7,237.0L215.2,236.3L215.7,236.2L216.2,237.0ZM228.2,237.0L228.7,236.4L229.2,237.0ZM232.2,237.0L232.7,236.2L233.2,237.0ZM243.7,237.0L244.2,235.8L244.7,237.0ZM245.2,237.0L245.7,236.3L246.2,237.0ZM253.2,237.0L253.7,235.9L254.2,237.0ZM40.80,237.0L40.90,235.80L41.05,233.70L41.75,233.70L41.90,235.80L42.00,237.0ZM52.80,237.0L53.30,232.56L53.45,222.90L54.15,222.90L54.30,232.56L54.80,237.0ZM56.30,237.0L56.80,231.60L56.95,219.70L57.65,219.70L57.80,231.60L58.30,237.0ZM116.70,237.0L117.20,235.20L117.35,231.70L118.05,231.70L118.20,235.20L118.70,237.0ZM123.40,237.0L123.90,232.56L124.05,222.90L124.75,222.90L124.90,232.56L125.40,237.0ZM141.90,237.0L142.40,232.95L142.55,224.20L143.25,224.20L143.40,232.95L143.90,237.0ZM184.60,237.0L185.10,232.56L185.25,222.90L185.95,222.90L186.10,232.56L186.60,237.0ZM199.80,237.0L200.10,235.50L200.25,232.70L200.95,232.70L201.10,235.50L201.40,237.0Z" fill="#b0002c"/>
<path d="M41.2,250.00H205.0M206.0,250.00H232.0M233.5,250.00H255.5" stroke="#6a3050" stroke-width="1.2" stroke-opacity="1.0" fill="none"/>
<path d="M60.7,250.3L61.2,249.2L61.7,250.3ZM82.2,250.3L82.7,249.6L83.2,250.3ZM89.2,250.3L89.7,249.7L90.2,250.3ZM96.2,250.3L96.7,249.4L97.2,250.3ZM99.2,250.3L99.7,249.3L100.2,250.3ZM100.7,250.3L101.2,249.5L101.7,250.3ZM105.7,250.3L106.2,249.4L106.7,250.3ZM108.7,250.3L109.2,249.7L109.7,250.3ZM117.7,250.3L118.2,249.4L118.7,250.3ZM118.7,250.3L119.2,249.5L119.7,250.3ZM121.7,250.3L122.2,249.5L122.7,250.3ZM134.7,250.3L135.2,249.7L135.7,250.3ZM137.7,250.3L138.2,247.2L138.7,245.1L139.2,243.7L139.7,245.0L140.2,245.6L140.7,245.8L141.2,246.6L141.7,247.0L142.2,247.1L142.7,248.1L143.2,248.4L143.7,248.6L144.2,249.0L144.7,249.0L145.2,249.0L145.7,249.0L146.2,249.0L146.7,249.3L147.2,249.2L147.7,249.2L148.2,249.1L148.7,248.9L149.2,248.6L149.7,248.6L150.2,248.6L150.7,249.6L151.2,250.3ZM156.2,250.3L156.7,249.5L157.2,250.3ZM158.2,250.3L158.7,249.5L159.2,250.3ZM226.2,250.3L226.7,249.5L227.2,250.3ZM233.2,250.3L233.7,249.3L234.2,250.3ZM235.7,250.3L236.2,249.3L236.7,249.4L237.2,250.3ZM237.2,250.3L237.7,249.3L238.2,250.3ZM244.7,250.3L245.2,249.2L245.7,250.3ZM254.2,250.3L254.7,249.1L255.2,250.3ZM40.80,250.3L40.90,248.20L41.05,244.00L41.75,244.00L41.90,248.20L42.00,250.3ZM52.80,250.3L53.30,245.86L53.45,236.20L54.15,236.20L54.30,245.86L54.80,250.3ZM56.30,250.3L56.80,245.86L56.95,236.20L57.65,236.20L57.80,245.86L58.30,250.3ZM88.50,250.3L89.22,247.90L89.45,243.00L90.15,243.00L90.38,247.90L91.10,250.3ZM89.60,250.3L90.26,249.10L90.45,247.00L91.15,247.00L91.34,249.10L92.00,250.3ZM116.70,250.3L117.20,247.60L117.35,242.00L118.05,242.00L118.20,247.60L118.70,250.3ZM123.40,250.3L123.90,245.86L124.05,236.20L124.75,236.20L124.90,245.86L125.40,250.3ZM137.60,250.3L138.10,246.25L138.25,237.50L138.95,237.50L139.10,246.25L139.60,250.3ZM138.90,250.3L139.30,247.60L139.45,242.00L140.15,242.00L140.30,247.60L140.70,250.3ZM184.60,250.3L185.10,245.86L185.25,236.20L185.95,236.20L186.10,245.86L186.60,250.3ZM199.70,250.3L200.10,247.60L200.25,242.00L200.95,242.00L201.10,247.60L201.50,250.3Z" fill="#b0002c"/>
<path d="M41.2,263.30H230.0M231.5,263.30H255.5" stroke="#6a3050" stroke-width="1.2" stroke-opacity="1.0" fill="none"/>
<path d="M48.2,263.6L48.7,263.0L49.2,263.6ZM74.2,263.6L74.7,262.8L75.2,263.6ZM86.2,263.6L86.7,262.9L87.2,263.6ZM90.2,263.6L90.7,262.7L91.2,263.6ZM102.2,263.6L102.7,262.9L103.2,263.0L103.7,263.6ZM105.7,263.6L106.2,262.6L106.7,263.6ZM123.7,263.6L124.2,262.7L124.7,263.6ZM138.7,263.6L139.2,263.1L139.7,263.6ZM146.7,263.6L147.2,263.1L147.7,263.6ZM148.7,263.6L149.2,263.0L149.7,263.6ZM168.7,263.6L169.2,263.1L169.7,263.6ZM173.7,263.6L174.2,263.0L174.7,263.6ZM179.2,263.6L179.7,263.0L180.2,263.6ZM185.2,263.6L185.7,263.1L186.2,263.6ZM201.7,263.6L202.2,262.8L202.7,263.6ZM210.7,263.6L211.2,262.8L211.7,263.6ZM212.7,263.6L213.2,262.9L213.7,263.6ZM231.7,263.6L232.2,262.9L232.7,263.6ZM237.2,263.6L237.7,262.7L238.2,263.6ZM248.2,263.6L248.7,262.7L249.2,263.6ZM40.80,263.6L40.90,262.55L41.05,260.80L41.75,260.80L41.90,262.55L42.00,263.6ZM52.80,263.6L53.30,259.16L53.45,249.50L54.15,249.50L54.30,259.16L54.80,263.6ZM56.30,263.6L56.80,260.30L56.95,253.30L57.65,253.30L57.80,260.30L58.30,263.6ZM116.70,263.6L117.20,261.20L117.35,256.30L118.05,256.30L118.20,261.20L118.70,263.6ZM123.40,263.6L123.90,259.16L124.05,249.50L124.75,249.50L124.90,259.16L125.40,263.6ZM140.20,263.6L140.50,262.70L140.65,261.30L141.35,261.30L141.50,262.70L141.80,263.6ZM184.60,263.6L185.10,260.90L185.25,255.30L185.95,255.30L186.10,260.90L186.60,263.6ZM199.80,263.6L200.10,262.70L200.25,261.30L200.95,261.30L201.10,262.70L201.40,263.6Z" fill="#b0002c"/>
<path d="M41.2,276.60H230.0M231.5,276.60H255.5" stroke="#8890aa" stroke-width="1.2" stroke-opacity="1.0" fill="none"/>
<path d="M44.2,276.9L44.7,276.4L45.2,276.9ZM63.2,276.9L63.7,276.3L64.2,276.9ZM66.2,276.9L66.7,276.1L67.2,276.9ZM75.7,276.9L76.2,276.1L76.7,276.9ZM82.7,276.9L83.2,276.2L83.7,276.9ZM101.7,276.9L102.2,276.2L102.7,276.9ZM102.7,276.9L103.2,276.3L103.7,276.9ZM103.7,276.9L104.2,276.4L104.7,276.9ZM106.7,276.9L107.2,276.3L107.7,276.9ZM123.7,276.9L124.2,276.0L124.7,276.9ZM125.2,276.9L125.7,276.4L126.2,276.9ZM128.2,276.9L128.7,276.2L129.2,276.9ZM129.7,276.9L130.2,276.3L130.7,276.9ZM147.2,276.9L147.7,276.4L148.2,276.9ZM155.7,276.9L156.2,276.1L156.7,276.9ZM157.7,276.9L158.2,276.1L158.7,276.9ZM160.2,276.9L160.7,276.4L161.2,276.9ZM164.7,276.9L165.2,276.4L165.7,276.9ZM197.7,276.9L198.2,276.4L198.7,276.9ZM204.2,276.9L204.7,276.1L205.2,276.9ZM212.7,276.9L213.2,276.4L213.7,276.9ZM246.2,276.9L246.7,276.4L247.2,276.9ZM250.7,276.9L251.2,276.4L251.7,276.9ZM40.80,276.9L40.90,276.00L41.05,274.60L41.75,274.60L41.90,276.00L42.00,276.9ZM52.80,276.9L53.30,272.46L53.45,262.80L54.15,262.80L54.30,272.46L54.80,276.9ZM56.30,276.9L56.80,275.10L56.95,271.60L57.65,271.60L57.80,275.10L58.30,276.9ZM77.70,276.9L78.00,276.30L78.15,275.60L78.85,275.60L79.00,276.30L79.30,276.9ZM116.70,276.9L117.20,274.80L117.35,270.60L118.05,270.60L118.20,274.80L118.70,276.9ZM123.40,276.9L123.90,272.46L124.05,262.80L124.75,262.80L124.90,272.46L125.40,276.9ZM184.60,276.9L185.10,272.46L185.25,262.80L185.95,262.80L186.10,272.46L186.60,276.9ZM199.80,276.9L200.10,276.15L200.25,275.10L200.95,275.10L201.10,276.15L201.40,276.9Z" fill="#2c4a7e"/>
<path d="M41.2,289.90H230.0M231.5,289.90H255.5" stroke="#8890aa" stroke-width="1.2" stroke-opacity="1.0" fill="none"/>
<path d="M70.2,290.2L70.7,289.7L71.2,290.2ZM90.7,290.2L91.2,289.7L91.7,290.2ZM102.2,290.2L102.7,289.5L103.2,290.2ZM107.7,290.2L108.2,289.4L108.7,290.2ZM110.7,290.2L111.2,289.7L111.7,290.2ZM136.7,290.2L137.2,289.7L137.7,290.2ZM143.7,290.2L144.2,289.6L144.7,290.2ZM192.2,290.2L192.7,289.7L193.2,290.2ZM197.2,290.2L197.7,289.6L198.2,290.2ZM199.7,290.2L200.2,289.5L200.7,290.2ZM201.7,290.2L202.2,289.6L202.7,290.2ZM216.2,290.2L216.7,289.7L217.2,290.2ZM235.2,290.2L235.7,289.5L236.2,290.2ZM40.80,290.2L40.90,289.30L41.05,287.90L41.75,287.90L41.90,289.30L42.00,290.2ZM52.80,290.2L53.30,285.76L53.45,276.10L54.15,276.10L54.30,285.76L54.80,290.2ZM56.30,290.2L56.80,288.10L56.95,283.90L57.65,283.90L57.80,288.10L58.30,290.2ZM77.70,290.2L78.00,289.00L78.15,286.90L78.85,286.90L79.00,289.00L79.30,290.2ZM116.70,290.2L117.20,287.20L117.35,280.90L118.05,280.90L118.20,287.20L118.70,290.2ZM123.40,290.2L123.90,285.76L124.05,276.10L124.75,276.10L124.90,285.76L125.40,290.2ZM184.60,290.2L185.10,285.76L185.25,276.10L185.95,276.10L186.10,285.76L186.60,290.2ZM199.80,290.2L200.10,289.45L200.25,288.40L200.95,288.40L201.10,289.45L201.40,290.2Z" fill="#2c4a7e"/>
<path d="M41.2,303.20H230.0M231.5,303.20H255.5" stroke="#8890aa" stroke-width="1.2" stroke-opacity="1.0" fill="none"/>
<path d="M41.7,303.5L42.2,302.4L42.7,303.5ZM42.7,303.5L43.2,302.6L43.7,303.5ZM52.2,303.5L52.7,302.6L53.2,303.5ZM84.7,303.5L85.2,302.4L85.7,303.5ZM87.2,303.5L87.7,302.9L88.2,303.5ZM92.7,303.5L93.2,302.9L93.7,303.5ZM95.2,303.5L95.7,302.9L96.2,303.5ZM100.2,303.5L100.7,302.5L101.2,303.5ZM111.7,303.5L112.2,302.7L112.7,303.5ZM119.7,303.5L120.2,302.8L120.7,303.5ZM121.2,303.5L121.7,302.4L122.2,303.5ZM132.2,303.5L132.7,302.9L133.2,303.5ZM134.7,303.5L135.2,302.9L135.7,303.5ZM135.7,303.5L136.2,302.8L136.7,303.5ZM143.7,303.5L144.2,302.7L144.7,303.5ZM149.2,303.5L149.7,302.4L150.2,303.5ZM159.2,303.5L159.7,302.8L160.2,303.5ZM193.2,303.5L193.7,303.0L194.2,303.5ZM207.2,303.5L207.7,302.9L208.2,303.5ZM212.2,303.5L212.7,303.0L213.2,303.5ZM213.2,303.5L213.7,302.6L214.2,303.5ZM216.2,303.5L216.7,302.8L217.2,303.5ZM236.7,303.5L237.2,302.5L237.7,303.5ZM243.7,303.5L244.2,302.9L244.7,303.5ZM248.2,303.5L248.7,302.5L249.2,303.5ZM249.7,303.5L250.2,302.7L250.7,303.5ZM40.80,303.5L40.90,302.60L41.05,301.20L41.75,301.20L41.90,302.60L42.00,303.5ZM52.80,303.5L53.30,299.06L53.45,289.40L54.15,289.40L54.30,299.06L54.80,303.5ZM56.30,303.5L56.80,300.20L56.95,293.20L57.65,293.20L57.80,300.20L58.30,303.5ZM116.70,303.5L117.20,301.70L117.35,298.20L118.05,298.20L118.20,301.70L118.70,303.5ZM123.40,303.5L123.90,299.06L124.05,289.40L124.75,289.40L124.90,299.06L125.40,303.5ZM184.60,303.5L185.10,300.80L185.25,295.20L185.95,295.20L186.10,300.80L186.60,303.5ZM199.80,303.5L200.10,302.75L200.25,301.70L200.95,301.70L201.10,302.75L201.40,303.5Z" fill="#2c4a7e"/>
<path d="M41.2,316.50H230.0M231.5,316.50H255.5" stroke="#8890aa" stroke-width="1.2" stroke-opacity="1.0" fill="none"/>
<path d="M54.7,316.8L55.2,316.1L55.7,316.8ZM65.7,316.8L66.2,316.2L66.7,316.2L67.2,316.1L67.7,316.8ZM75.7,316.8L76.2,315.8L76.7,315.9L77.2,316.8ZM82.7,316.8L83.2,316.0L83.7,316.8ZM85.7,316.8L86.2,316.1L86.7,316.8ZM94.2,316.8L94.7,316.0L95.2,316.8ZM99.7,316.8L100.2,315.6L100.7,316.8ZM102.2,316.8L102.7,315.0L103.2,315.8L103.7,316.8ZM106.2,316.8L106.7,315.6L107.2,316.8ZM107.7,316.8L108.2,315.8L108.7,316.0L109.2,316.8ZM109.2,316.8L109.7,315.9L110.2,315.8L110.7,316.8ZM110.7,316.8L111.2,315.5L111.7,316.8ZM112.2,316.8L112.7,316.1L113.2,316.8ZM125.2,316.8L125.7,316.2L126.2,316.8ZM126.7,316.8L127.2,316.1L127.7,316.8ZM132.7,316.8L133.2,315.8L133.7,316.8ZM139.7,316.8L140.2,316.2L140.7,316.8ZM142.7,316.8L143.2,315.8L143.7,316.8ZM144.7,316.8L145.2,315.8L145.7,316.8ZM149.2,316.8L149.7,315.8L150.2,316.8ZM158.7,316.8L159.2,316.2L159.7,316.8ZM162.7,316.8L163.2,316.2L163.7,316.8ZM174.7,316.8L175.2,316.1L175.7,315.7L176.2,316.8ZM176.7,316.8L177.2,316.0L177.7,316.8ZM177.7,316.8L178.2,315.8L178.7,316.8ZM187.2,316.8L187.7,315.7L188.2,316.8ZM193.7,316.8L194.2,315.9L194.7,316.8ZM195.7,316.8L196.2,316.1L196.7,316.0L197.2,316.8ZM199.2,316.8L199.7,316.0L200.2,316.8ZM209.2,316.8L209.7,315.8L210.2,316.8ZM215.2,316.8L215.7,316.2L216.2,316.8ZM243.7,316.8L244.2,316.1L244.7,316.8ZM253.7,316.8L254.2,316.2L254.7,316.8ZM40.80,316.8L40.90,315.90L41.05,314.50L41.75,314.50L41.90,315.90L42.00,316.8ZM52.30,316.8L52.80,314.70L52.95,310.50L53.65,310.50L53.80,314.70L54.30,316.8ZM53.70,316.8L54.10,315.00L54.25,311.50L54.95,311.50L55.10,315.00L55.50,316.8ZM56.30,316.8L56.80,314.70L56.95,310.50L57.65,310.50L57.80,314.70L58.30,316.8ZM57.60,316.8L58.00,315.30L58.15,312.50L58.85,312.50L59.00,315.30L59.40,316.8ZM114.70,316.8L115.00,315.60L115.15,313.50L115.85,313.50L116.00,315.60L116.30,316.8ZM116.90,316.8L117.20,315.60L117.35,313.50L118.05,313.50L118.20,315.60L118.50,316.8ZM123.40,316.8L123.90,314.10L124.05,308.50L124.75,308.50L124.90,314.10L125.40,316.8ZM184.60,316.8L185.10,314.40L185.25,309.50L185.95,309.50L186.10,314.40L186.60,316.8ZM199.80,316.8L200.10,316.05L200.25,315.00L200.95,315.00L201.10,316.05L201.40,316.8Z" fill="#2c4a7e"/>
<rect x="136.1" y="211" width="17.4" height="112.8" fill="none" stroke="#000" stroke-width="1.3" stroke-dasharray="2.3 2.0"/>
<text x="66.80" y="335.20" font-size="7.3" fill="#465473" font-style="italic" stroke="#465473" stroke-width="0.1" textLength="20.20" lengthAdjust="spacingAndGlyphs" >FGFR3</text>
<path d="M89.6,332.8 v2.3 h2.2" fill="none" stroke="#3d5688" stroke-width="0.6"/>
<rect x="90" y="331" width="2" height="2" fill="none" stroke="#3d5688" stroke-width="0.6"/>
<line x1="92" y1="332" x2="96.5" y2="332" stroke="#3d5688" stroke-width="0.7"/>
<rect x="94.5" y="330.8" width="2.2" height="2.4" fill="#3d5688"/>
<path d="M124.6,331.3 v3 h3" fill="none" stroke="#3d5688" stroke-width="0.7"/>
<line x1="124.6" y1="332.1" x2="173" y2="332.1" stroke="#3d5688" stroke-width="0.7"/>
<rect x="136.6" y="330.6" width="1.6" height="3" fill="#3d5688"/>
<rect x="145" y="330.6" width="1.2" height="3" fill="#3d5688"/>
<rect x="150.6" y="330.6" width="3" height="3" fill="#3d5688"/>
<rect x="159.6" y="330.6" width="4" height="3" fill="#3d5688"/>
<rect x="169.8" y="330.6" width="2.6" height="3" fill="#3d5688"/>
<text x="177.10" y="334.90" font-size="7.3" fill="#465473" font-style="italic" stroke="#465473" stroke-width="0.1" textLength="23.30" lengthAdjust="spacingAndGlyphs" >MMSET</text>
<text x="300.00" y="16.90" font-size="11.8" fill="#000" font-weight="bold" stroke="#000" stroke-width="0.1" >B</text>
<rect x="318.6" y="18.6" width="194.2" height="75.2" fill="none" stroke="#000" stroke-width="1.3"/>
<rect x="318.6" y="107.6" width="194.2" height="75.9" fill="none" stroke="#000" stroke-width="1.3"/>
<text x="330.80" y="42.00" font-size="7.2" fill="#1e1e1e" stroke="#1e1e1e" stroke-width="0.18" textLength="24.90" lengthAdjust="spacingAndGlyphs" >MM w/o</text>
<text x="330.80" y="49.00" font-size="6.8" fill="#1e1e1e" stroke="#1e1e1e" stroke-width="0.18" textLength="22.20" lengthAdjust="spacingAndGlyphs" >t(11;14)</text>
<path d="M429.30,43.40 L429.60,38.50 L429.90,36.70 L430.20,35.36 L430.50,34.25 L430.80,33.28 L431.10,32.42 L431.40,31.63 L431.70,30.90 L433.06,32.52 L434.32,34.40 L435.59,36.40 L436.86,38.27 L437.84,39.52 L439.11,40.90 L440.37,42.15 L441.51,42.90 L442.60,43.40 Z" fill="#2f5088"/>
<line x1="359.2" y1="43.35" x2="505.4" y2="43.35" stroke="#000" stroke-width="1.8"/>
<text x="359.00" y="50.60" font-size="5.6" fill="#333" stroke="#333" stroke-width="0.05" textLength="13.20" lengthAdjust="spacingAndGlyphs" >chr11</text>
<rect x="434.7" y="22.3" width="22" height="4.3" fill="#000"/>
<text x="459.70" y="26.70" font-size="6.8" fill="#333" stroke="#333" stroke-width="0.18" textLength="7.50" lengthAdjust="spacingAndGlyphs" >SE</text>
<path d="M432.5,44.0 V49.2 H445.2" fill="none" stroke="#000" stroke-width="1.0"/><path d="M444.7,47.85 L448.3,49.2 L444.7,50.550000000000004Z" fill="#000"/>
<polyline points="452.20,48.48 452.60,48.17 452.99,47.84 453.39,47.53 453.79,47.24 454.18,46.99 454.58,46.80 454.98,46.66 455.37,46.60 455.77,46.62 456.17,46.70 456.56,46.86 456.96,47.08 457.36,47.34 457.75,47.64 458.15,47.96 458.55,48.28 458.95,48.59 459.34,48.86 459.74,49.09 460.14,49.26 460.53,49.37 460.93,49.40 461.33,49.36 461.72,49.24 462.12,49.06 462.52,48.83 462.91,48.54 463.31,48.24 463.71,47.91 464.10,47.60 464.50,47.30 464.90,47.04 465.29,46.83 465.69,46.69 466.09,46.61 466.48,46.61 466.88,46.68 467.28,46.82 467.67,47.02 468.07,47.28 468.47,47.57 468.86,47.89 469.26,48.21 469.66,48.52 470.05,48.81 470.45,49.05 470.85,49.23 471.25,49.35 471.64,49.40 472.04,49.37 472.44,49.27 472.83,49.11 473.23,48.88 473.63,48.61 474.02,48.30 474.42,47.98 474.82,47.66 475.21,47.36 475.61,47.09 476.01,46.87 476.40,46.71 476.80,46.62" fill="none" stroke="#24365e" stroke-width="1.8" stroke-linecap="round" stroke-linejoin="round"/>
<text x="330.80" y="65.00" font-size="7.2" fill="#1e1e1e" stroke="#1e1e1e" stroke-width="0.18" textLength="26.20" lengthAdjust="spacingAndGlyphs" >MM with</text>
<text x="330.80" y="72.90" font-size="6.8" fill="#1e1e1e" stroke="#1e1e1e" stroke-width="0.18" textLength="22.20" lengthAdjust="spacingAndGlyphs" >t(11;14)</text>
<path d="M432.0,66.9 L432.0,57.5 L434.0,55.3 L435.8,58.6 L437.6,55.3 L439.6,58.6 L441.7,55.3 L443.9,58.6 L446.2,55.3 L447.54,56.81 L448.77,58.55 L450.02,60.40 L451.26,62.14 L452.22,63.30 L453.48,64.58 L454.71,65.74 L455.83,66.44 L456.90,66.90 Z" fill="#ab032d"/>
<path d="M360,66.95 H401 M403.4,66.95 H405 M407.3,66.95 H409.2 M410.3,66.95 H412.7 M415,66.95 H505.8" stroke="#000" stroke-width="1.8" fill="none"/>
<text x="360.30" y="74.50" font-size="5.6" fill="#333" stroke="#333" stroke-width="0.05" textLength="13.40" lengthAdjust="spacingAndGlyphs" >chr14</text>
<text x="401.00" y="63.80" font-size="5.4" fill="#333" stroke="#333" stroke-width="0.05" textLength="14.60" lengthAdjust="spacingAndGlyphs" >fusion</text>
<text x="402.20" y="73.00" font-size="5.4" fill="#333" stroke="#333" stroke-width="0.05" textLength="12.80" lengthAdjust="spacingAndGlyphs" >point</text>
<text x="491.80" y="75.20" font-size="5.6" fill="#333" stroke="#333" stroke-width="0.05" textLength="13.60" lengthAdjust="spacingAndGlyphs" >chr11</text>
<path d="M432.5,67.5 V72.6 H445.09999999999997" fill="none" stroke="#000" stroke-width="1.0"/><path d="M444.59999999999997,71.25 L448.2,72.6 L444.59999999999997,73.94999999999999Z" fill="#000"/>
<polyline points="453.60,72.14 454.00,71.94 454.39,71.72 454.79,71.49 455.19,71.26 455.58,71.03 455.98,70.82 456.38,70.63 456.78,70.47 457.17,70.35 457.57,70.28 457.97,70.25 458.36,70.27 458.76,70.34 459.16,70.45 459.55,70.60 459.95,70.78 460.35,70.99 460.74,71.22 461.14,71.45 461.54,71.69 461.94,71.91 462.33,72.11 462.73,72.28 463.13,72.41 463.52,72.50 463.92,72.55 464.32,72.54 464.71,72.49 465.11,72.40 465.51,72.26 465.90,72.09 466.30,71.89 466.70,71.67 467.10,71.43 467.49,71.20 467.89,70.97 468.29,70.76 468.68,70.58 469.08,70.44 469.48,70.33 469.87,70.27 470.27,70.25 470.67,70.28 471.06,70.36 471.46,70.48 471.86,70.64 472.26,70.84 472.65,71.05 473.05,71.28 473.45,71.52 473.84,71.75 474.24,71.96 474.64,72.15 475.03,72.31 475.43,72.44 475.83,72.52 476.22,72.55 476.62,72.53 477.02,72.47 477.42,72.37 477.81,72.22 478.21,72.04 478.61,71.83 479.00,71.60 479.40,71.37" fill="none" stroke="#ab032d" stroke-width="1.7" stroke-linecap="round" stroke-linejoin="round"/>
<polyline points="453.60,75.34 454.00,75.14 454.39,74.92 454.79,74.69 455.19,74.46 455.58,74.23 455.98,74.02 456.38,73.83 456.78,73.67 457.17,73.55 457.57,73.48 457.97,73.45 458.36,73.47 458.76,73.54 459.16,73.65 459.55,73.80 459.95,73.98 460.35,74.19 460.74,74.42 461.14,74.65 461.54,74.89 461.94,75.11 462.33,75.31 462.73,75.48 463.13,75.61 463.52,75.70 463.92,75.75 464.32,75.74 464.71,75.69 465.11,75.60 465.51,75.46 465.90,75.29 466.30,75.09 466.70,74.87 467.10,74.63 467.49,74.40 467.89,74.17 468.29,73.96 468.68,73.78 469.08,73.64 469.48,73.53 469.87,73.47 470.27,73.45 470.67,73.48 471.06,73.56 471.46,73.68 471.86,73.84 472.26,74.04 472.65,74.25 473.05,74.48 473.45,74.72 473.84,74.95 474.24,75.16 474.64,75.35 475.03,75.51 475.43,75.64 475.83,75.72 476.22,75.75 476.62,75.73 477.02,75.67 477.42,75.57 477.81,75.42 478.21,75.24 478.61,75.03 479.00,74.80 479.40,74.57" fill="none" stroke="#ab032d" stroke-width="1.7" stroke-linecap="round" stroke-linejoin="round"/>
<polyline points="453.60,78.44 454.00,78.24 454.39,78.02 454.79,77.79 455.19,77.56 455.58,77.33 455.98,77.12 456.38,76.93 456.78,76.77 457.17,76.65 457.57,76.58 457.97,76.55 458.36,76.57 458.76,76.64 459.16,76.75 459.55,76.90 459.95,77.08 460.35,77.29 460.74,77.52 461.14,77.75 461.54,77.99 461.94,78.21 462.33,78.41 462.73,78.58 463.13,78.71 463.52,78.80 463.92,78.85 464.32,78.84 464.71,78.79 465.11,78.70 465.51,78.56 465.90,78.39 466.30,78.19 466.70,77.97 467.10,77.73 467.49,77.50 467.89,77.27 468.29,77.06 468.68,76.88 469.08,76.74 469.48,76.63 469.87,76.57 470.27,76.55 470.67,76.58 471.06,76.66 471.46,76.78 471.86,76.94 472.26,77.14 472.65,77.35 473.05,77.58 473.45,77.82 473.84,78.05 474.24,78.26 474.64,78.45 475.03,78.61 475.43,78.74 475.83,78.82 476.22,78.85 476.62,78.83 477.02,78.77 477.42,78.67 477.81,78.52 478.21,78.34 478.61,78.13 479.00,77.90 479.40,77.67" fill="none" stroke="#ab032d" stroke-width="1.7" stroke-linecap="round" stroke-linejoin="round"/>
<text x="380.00" y="87.20" font-size="6.8" fill="#222" font-style="italic" stroke="#222" stroke-width="0.18" textLength="10.80" lengthAdjust="spacingAndGlyphs" >IgH</text>
<text x="434.90" y="87.50" font-size="6.8" fill="#222" stroke="#222" stroke-width="0.18" textLength="22.10" lengthAdjust="spacingAndGlyphs" >CCND1</text>
<text x="331.00" y="132.80" font-size="7.2" fill="#1e1e1e" stroke="#1e1e1e" stroke-width="0.18" textLength="24.70" lengthAdjust="spacingAndGlyphs" >MM w/o</text>
<text x="331.00" y="140.20" font-size="6.8" fill="#1e1e1e" stroke="#1e1e1e" stroke-width="0.18" textLength="18.20" lengthAdjust="spacingAndGlyphs" >t(4;14)</text>
<path d="M405.30,134.20 L405.51,129.02 L405.73,127.13 L405.94,125.71 L406.15,124.54 L406.36,123.52 L406.57,122.60 L406.79,121.77 L407.00,121.00 L407.80,122.72 L408.54,124.70 L409.28,126.81 L410.03,128.79 L410.60,130.11 L411.35,131.56 L412.09,132.88 L412.76,133.67 L413.40,134.20 Z" fill="#2f5088"/>
<line x1="360.8" y1="134.15" x2="506.5" y2="134.15" stroke="#000" stroke-width="1.8"/>
<text x="361.20" y="141.80" font-size="5.6" fill="#333" stroke="#333" stroke-width="0.05" textLength="10.30" lengthAdjust="spacingAndGlyphs" >chr4</text>
<rect x="412.4" y="112.6" width="16.3" height="4.0" fill="#000"/>
<text x="432.20" y="117.00" font-size="6.8" fill="#333" stroke="#333" stroke-width="0.18" textLength="7.00" lengthAdjust="spacingAndGlyphs" >SE</text>
<path d="M378.5,134.6 V139.6 H390.5" fill="none" stroke="#000" stroke-width="1.0"/><path d="M390.0,138.25 L393.6,139.6 L390.0,140.95Z" fill="#000"/>
<path d="M382.3,137.3 L385.3,141.9 M385.3,137.3 L382.3,141.9" stroke="#111" stroke-width="0.9"/>
<path d="M407.5,134.6 V140.0 H418.79999999999995" fill="none" stroke="#000" stroke-width="1.0"/><path d="M418.29999999999995,138.65 L421.9,140.0 L418.29999999999995,141.35Z" fill="#000"/>
<polyline points="425.30,140.69 425.70,140.41 426.10,140.14 426.50,139.88 426.89,139.65 427.29,139.46 427.69,139.32 428.09,139.23 428.49,139.20 428.89,139.23 429.28,139.31 429.68,139.45 430.08,139.64 430.48,139.87 430.88,140.12 431.28,140.40 431.67,140.67 432.07,140.94 432.47,141.19 432.87,141.41 433.27,141.59 433.67,141.71 434.06,141.78 434.46,141.80 434.86,141.75 435.26,141.65 435.66,141.49 436.06,141.29 436.45,141.05 436.85,140.79 437.25,140.52 437.65,140.24 438.05,139.98 438.45,139.74 438.84,139.53 439.24,139.37 439.64,139.26 440.04,139.20 440.44,139.21 440.84,139.28 441.23,139.40 441.63,139.57 442.03,139.78 442.43,140.03 442.83,140.29 443.23,140.57 443.62,140.84 444.02,141.10 444.42,141.33 444.82,141.53 445.22,141.67 445.62,141.76 446.01,141.80 446.41,141.78 446.81,141.69 447.21,141.56 447.61,141.37 448.01,141.15 448.40,140.89 448.80,140.62 449.20,140.34 449.60,140.07" fill="none" stroke="#24365e" stroke-width="1.8" stroke-linecap="round" stroke-linejoin="round"/>
<text x="331.00" y="157.20" font-size="7.2" fill="#1e1e1e" stroke="#1e1e1e" stroke-width="0.18" textLength="26.00" lengthAdjust="spacingAndGlyphs" >MM with</text>
<text x="331.00" y="165.40" font-size="6.8" fill="#1e1e1e" stroke="#1e1e1e" stroke-width="0.18" textLength="18.20" lengthAdjust="spacingAndGlyphs" >t(4;14)</text>
<path d="M377.00,159.50 L377.16,155.46 L377.32,153.98 L377.49,152.88 L377.65,151.96 L377.81,151.16 L377.98,150.45 L378.14,149.80 L378.30,149.20 L379.14,150.54 L379.91,152.08 L380.69,153.73 L381.47,155.28 L382.07,156.31 L382.86,157.44 L383.63,158.47 L384.33,159.09 L385.00,159.50 Z" fill="#ab032d"/>
<path d="M403.60,159.50 L403.80,154.67 L404.00,152.91 L404.20,151.59 L404.40,150.50 L404.60,149.54 L404.80,148.69 L405.00,147.92 L405.20,147.20 L405.93,148.80 L406.59,150.64 L407.27,152.61 L407.94,154.46 L408.47,155.69 L409.14,157.04 L409.81,158.27 L410.42,159.01 L411.00,159.50 Z" fill="#2f5088"/>
<path d="M414.0,159.5 L414.0,151.0 L415.7,148.0 L417.4,151.0 L419.2,148.0 L420.9,151.0 L422.7,148.0 L423.99,149.50 L425.17,151.22 L426.38,153.06 L427.57,154.78 L428.50,155.94 L429.70,157.20 L430.89,158.35 L431.97,159.04 L433.00,159.50 Z" fill="#ab032d"/>
<path d="M360.3,159.45 H458 M459.8,159.45 H462.1 M465.3,159.45 H467.9 M468.5,159.45 H470.8 M472,159.45 H506.5" stroke="#000" stroke-width="1.8" fill="none"/>
<text x="360.80" y="167.20" font-size="5.6" fill="#333" stroke="#333" stroke-width="0.05" textLength="10.00" lengthAdjust="spacingAndGlyphs" >chr4</text>
<path d="M377.5,159.9 V164.6 H388.59999999999997" fill="none" stroke="#000" stroke-width="1.0"/><path d="M388.09999999999997,163.25 L391.7,164.6 L388.09999999999997,165.95Z" fill="#000"/>
<path d="M404.5,159.9 V164.8 H416.9" fill="none" stroke="#000" stroke-width="1.0"/><path d="M416.4,163.45000000000002 L420.0,164.8 L416.4,166.15Z" fill="#000"/>
<polyline points="424.00,163.68 424.40,163.49 424.79,163.28 425.19,163.05 425.59,162.82 425.98,162.59 426.38,162.37 426.78,162.17 427.17,162.01 427.57,161.88 427.97,161.79 428.37,161.75 428.76,161.76 429.16,161.82 429.56,161.92 429.95,162.06 430.35,162.23 430.75,162.44 431.14,162.66 431.54,162.89 431.94,163.13 432.33,163.35 432.73,163.56 433.13,163.73 433.52,163.88 433.92,163.98 434.32,164.04 434.71,164.05 435.11,164.01 435.51,163.93 435.90,163.80 436.30,163.64 436.70,163.44 437.10,163.22 437.49,162.99 437.89,162.76 438.29,162.53 438.68,162.32 439.08,162.13 439.48,161.97 439.87,161.85 440.27,161.78 440.67,161.75 441.06,161.77 441.46,161.84 441.86,161.95 442.25,162.10 442.65,162.28 443.05,162.49 443.44,162.72 443.84,162.95 444.24,163.19 444.63,163.41 445.03,163.61 445.43,163.77 445.83,163.91 446.22,164.00 446.62,164.05 447.02,164.04 447.41,163.99 447.81,163.90 448.21,163.76 448.60,163.59 449.00,163.39" fill="none" stroke="#ab032d" stroke-width="1.7" stroke-linecap="round" stroke-linejoin="round"/>
<polyline points="424.00,166.88 424.40,166.69 424.79,166.48 425.19,166.25 425.59,166.02 425.98,165.79 426.38,165.57 426.78,165.37 427.17,165.21 427.57,165.08 427.97,164.99 428.37,164.95 428.76,164.96 429.16,165.02 429.56,165.12 429.95,165.26 430.35,165.43 430.75,165.64 431.14,165.86 431.54,166.09 431.94,166.33 432.33,166.55 432.73,166.76 433.13,166.93 433.52,167.08 433.92,167.18 434.32,167.24 434.71,167.25 435.11,167.21 435.51,167.13 435.90,167.00 436.30,166.84 436.70,166.64 437.10,166.42 437.49,166.19 437.89,165.96 438.29,165.73 438.68,165.52 439.08,165.33 439.48,165.17 439.87,165.05 440.27,164.98 440.67,164.95 441.06,164.97 441.46,165.04 441.86,165.15 442.25,165.30 442.65,165.48 443.05,165.69 443.44,165.92 443.84,166.15 444.24,166.39 444.63,166.61 445.03,166.81 445.43,166.97 445.83,167.11 446.22,167.20 446.62,167.25 447.02,167.24 447.41,167.19 447.81,167.10 448.21,166.96 448.60,166.79 449.00,166.59" fill="none" stroke="#ab032d" stroke-width="1.7" stroke-linecap="round" stroke-linejoin="round"/>
<polyline points="424.00,170.18 424.40,169.99 424.79,169.78 425.19,169.55 425.59,169.32 425.98,169.09 426.38,168.87 426.78,168.67 427.17,168.51 427.57,168.38 427.97,168.29 428.37,168.25 428.76,168.26 429.16,168.32 429.56,168.42 429.95,168.56 430.35,168.73 430.75,168.94 431.14,169.16 431.54,169.39 431.94,169.63 432.33,169.85 432.73,170.06 433.13,170.23 433.52,170.38 433.92,170.48 434.32,170.54 434.71,170.55 435.11,170.51 435.51,170.43 435.90,170.30 436.30,170.14 436.70,169.94 437.10,169.72 437.49,169.49 437.89,169.26 438.29,169.03 438.68,168.82 439.08,168.63 439.48,168.47 439.87,168.35 440.27,168.28 440.67,168.25 441.06,168.27 441.46,168.34 441.86,168.45 442.25,168.60 442.65,168.78 443.05,168.99 443.44,169.22 443.84,169.45 444.24,169.69 444.63,169.91 445.03,170.11 445.43,170.27 445.83,170.41 446.22,170.50 446.62,170.55 447.02,170.54 447.41,170.49 447.81,170.40 448.21,170.26 448.60,170.09 449.00,169.89" fill="none" stroke="#ab032d" stroke-width="1.7" stroke-linecap="round" stroke-linejoin="round"/>
<text x="371.50" y="178.50" font-size="6.8" fill="#222" font-style="italic" stroke="#222" stroke-width="0.18" textLength="20.00" lengthAdjust="spacingAndGlyphs" >FGFR3</text>
<text x="403.50" y="178.60" font-size="6.8" fill="#222" font-style="italic" stroke="#222" stroke-width="0.18" textLength="22.90" lengthAdjust="spacingAndGlyphs" >MMSET</text>
<text x="458.60" y="156.60" font-size="5.4" fill="#333" stroke="#333" stroke-width="0.05" textLength="14.50" lengthAdjust="spacingAndGlyphs" >fusion</text>
<text x="459.20" y="165.30" font-size="5.4" fill="#333" stroke="#333" stroke-width="0.05" textLength="12.40" lengthAdjust="spacingAndGlyphs" >point</text>
<text x="492.30" y="166.90" font-size="5.6" fill="#333" stroke="#333" stroke-width="0.05" textLength="13.90" lengthAdjust="spacingAndGlyphs" >chr14</text>
<text x="481.30" y="178.50" font-size="6.8" fill="#222" font-style="italic" stroke="#222" stroke-width="0.18" textLength="10.40" lengthAdjust="spacingAndGlyphs" >IgH</text>
<text x="299.80" y="210.30" font-size="11.8" fill="#000" font-weight="bold" stroke="#000" stroke-width="0.1" >C</text>
<rect x="330.2" y="225.6" width="49" height="72.5" fill="none" stroke="#000" stroke-width="1.3"/>
<text x="326.60" y="232.50" font-size="7.0" fill="#222" text-anchor="end" stroke="#222" stroke-width="0.18" textLength="14.68" lengthAdjust="spacingAndGlyphs" >1500</text>
<text x="326.60" y="253.40" font-size="7.0" fill="#222" text-anchor="end" stroke="#222" stroke-width="0.18" textLength="14.68" lengthAdjust="spacingAndGlyphs" >1000</text>
<text x="326.60" y="275.10" font-size="7.0" fill="#222" text-anchor="end" stroke="#222" stroke-width="0.18" textLength="11.01" lengthAdjust="spacingAndGlyphs" >500</text>
<text x="326.60" y="296.70" font-size="7.0" fill="#222" text-anchor="end" stroke="#222" stroke-width="0.18" textLength="3.67" lengthAdjust="spacingAndGlyphs" >0</text>
<text x="0" y="0" font-size="7.4" fill="#222" stroke="#222" stroke-width="0.12" text-anchor="middle" transform="translate(307.3,261.5) rotate(-90)" textLength="17.8" lengthAdjust="spacingAndGlyphs">FPKM</text>
<line x1="343.4" y1="228" x2="343.4" y2="291" stroke="#000" stroke-width="1"/>
<rect x="335" y="255.6" width="17" height="28.6" fill="#a6002a"/>
<line x1="335" y1="277.8" x2="352" y2="277.8" stroke="#4a000f" stroke-width="1.8"/>
<line x1="365.7" y1="290.2" x2="365.7" y2="294.3" stroke="#000" stroke-width="1"/>
<line x1="357.3" y1="294.3" x2="373.8" y2="294.3" stroke="#000" stroke-width="1.4"/>
<path d="M343.4,298 V301.5 M365.7,298 V301.5" stroke="#000" stroke-width="1"/>
<path d="M344.2,222.6 V218 H369.7 V222.6" fill="none" stroke="#000" stroke-width="1.1"/>
<rect x="353.60" y="214.3" width="1.49" height="1.1" fill="#444"/>
<rect x="356.00" y="214.3" width="1.49" height="1.1" fill="#444"/>
<rect x="358.40" y="214.3" width="1.49" height="1.1" fill="#444"/>
<text x="336.30" y="309.80" font-size="7.0" fill="#1e1e1e" stroke="#1e1e1e" stroke-width="0.18" textLength="12.50" lengthAdjust="spacingAndGlyphs" >with</text>
<text x="330.50" y="318.00" font-size="7.0" fill="#1e1e1e" stroke="#1e1e1e" stroke-width="0.18" textLength="23.30" lengthAdjust="spacingAndGlyphs" >t(11;14)</text>
<text x="360.50" y="309.80" font-size="7.0" fill="#1e1e1e" stroke="#1e1e1e" stroke-width="0.18" textLength="11.50" lengthAdjust="spacingAndGlyphs" >w/o</text>
<text x="355.80" y="318.00" font-size="7.0" fill="#1e1e1e" stroke="#1e1e1e" stroke-width="0.18" textLength="22.20" lengthAdjust="spacingAndGlyphs" >t(11;14)</text>
<text x="341.90" y="329.50" font-size="8.5" fill="#465473" font-style="italic" stroke="#465473" stroke-width="0.12" textLength="25.00" lengthAdjust="spacingAndGlyphs" >CCND1</text>
<rect x="397.1" y="225.7" width="47.6" height="72.4" fill="none" stroke="#000" stroke-width="1.3"/>
<text x="394.60" y="228.40" font-size="7.0" fill="#222" text-anchor="end" stroke="#222" stroke-width="0.18" textLength="11.01" lengthAdjust="spacingAndGlyphs" >600</text>
<text x="394.60" y="252.20" font-size="7.0" fill="#222" text-anchor="end" stroke="#222" stroke-width="0.18" textLength="11.01" lengthAdjust="spacingAndGlyphs" >400</text>
<text x="394.60" y="275.50" font-size="7.0" fill="#222" text-anchor="end" stroke="#222" stroke-width="0.18" textLength="11.01" lengthAdjust="spacingAndGlyphs" >200</text>
<text x="394.60" y="299.10" font-size="7.0" fill="#222" text-anchor="end" stroke="#222" stroke-width="0.18" textLength="3.67" lengthAdjust="spacingAndGlyphs" >0</text>
<line x1="410.5" y1="229.7" x2="410.5" y2="281.2" stroke="#000" stroke-width="1"/>
<rect x="402.7" y="246.6" width="16" height="25.3" fill="#a6002a"/>
<line x1="402.7" y1="263.1" x2="418.7" y2="263.1" stroke="#4a000f" stroke-width="1.8"/>
<line x1="432.7" y1="286.7" x2="432.7" y2="294.4" stroke="#1a2a4a" stroke-width="1"/>
<rect x="424.8" y="289.2" width="16.5" height="3.3" fill="#2a3d66" stroke="#111" stroke-width="0.6"/>
<path d="M410.5,298 V301.5 M432.7,298 V301.5" stroke="#000" stroke-width="1"/>
<path d="M411.0,222.6 V218 H436.8 V222.6" fill="none" stroke="#000" stroke-width="1.1"/>
<rect x="419.30" y="214.3" width="1.43" height="1.1" fill="#444"/>
<rect x="421.60" y="214.3" width="1.43" height="1.1" fill="#444"/>
<rect x="423.90" y="214.3" width="1.43" height="1.1" fill="#444"/>
<rect x="426.20" y="214.3" width="1.43" height="1.1" fill="#444"/>
<text x="404.20" y="309.80" font-size="7.0" fill="#1e1e1e" stroke="#1e1e1e" stroke-width="0.18" textLength="13.20" lengthAdjust="spacingAndGlyphs" >with</text>
<text x="401.50" y="318.00" font-size="7.0" fill="#1e1e1e" stroke="#1e1e1e" stroke-width="0.18" textLength="18.90" lengthAdjust="spacingAndGlyphs" >t(4;14)</text>
<text x="427.30" y="309.80" font-size="7.0" fill="#1e1e1e" stroke="#1e1e1e" stroke-width="0.18" textLength="11.10" lengthAdjust="spacingAndGlyphs" >w/o</text>
<text x="423.90" y="318.00" font-size="7.0" fill="#1e1e1e" stroke="#1e1e1e" stroke-width="0.18" textLength="18.40" lengthAdjust="spacingAndGlyphs" >t(4;14)</text>
<text x="408.90" y="329.50" font-size="8.5" fill="#465473" font-style="italic" stroke="#465473" stroke-width="0.12" textLength="25.40" lengthAdjust="spacingAndGlyphs" >MMSET</text>
<rect x="463.2" y="226" width="49.6" height="72.1" fill="none" stroke="#000" stroke-width="1.3"/>
<text x="460.90" y="232.10" font-size="7.0" fill="#222" text-anchor="end" stroke="#222" stroke-width="0.18" textLength="11.01" lengthAdjust="spacingAndGlyphs" >400</text>
<text x="460.90" y="248.10" font-size="7.0" fill="#222" text-anchor="end" stroke="#222" stroke-width="0.18" textLength="11.01" lengthAdjust="spacingAndGlyphs" >300</text>
<text x="460.90" y="264.10" font-size="7.0" fill="#222" text-anchor="end" stroke="#222" stroke-width="0.18" textLength="11.01" lengthAdjust="spacingAndGlyphs" >200</text>
<text x="460.90" y="280.70" font-size="7.0" fill="#222" text-anchor="end" stroke="#222" stroke-width="0.18" textLength="11.01" lengthAdjust="spacingAndGlyphs" >100</text>
<text x="460.90" y="297.50" font-size="7.0" fill="#222" text-anchor="end" stroke="#222" stroke-width="0.18" textLength="3.67" lengthAdjust="spacingAndGlyphs" >0</text>
<line x1="477.2" y1="229.7" x2="477.2" y2="294.7" stroke="#000" stroke-width="1"/>
<rect x="468.8" y="255.3" width="17.2" height="32.4" fill="#a6002a"/>
<line x1="468.8" y1="281.2" x2="486" y2="281.2" stroke="#4a000f" stroke-width="1.8"/>
<line x1="491.3" y1="294.5" x2="507.8" y2="294.5" stroke="#000" stroke-width="1.3"/>
<path d="M477.2,298 V301.5 M499.7,298 V301.5" stroke="#000" stroke-width="1"/>
<path d="M475.3,222.6 V218 H501.3 V222.6" fill="none" stroke="#000" stroke-width="1.1"/>
<rect x="484.10" y="214.3" width="1.40" height="1.1" fill="#444"/>
<rect x="486.35" y="214.3" width="1.40" height="1.1" fill="#444"/>
<rect x="488.60" y="214.3" width="1.40" height="1.1" fill="#444"/>
<rect x="490.85" y="214.3" width="1.40" height="1.1" fill="#444"/>
<text x="471.20" y="309.80" font-size="7.0" fill="#1e1e1e" stroke="#1e1e1e" stroke-width="0.18" textLength="11.60" lengthAdjust="spacingAndGlyphs" >with</text>
<text x="467.70" y="318.00" font-size="7.0" fill="#1e1e1e" stroke="#1e1e1e" stroke-width="0.18" textLength="19.00" lengthAdjust="spacingAndGlyphs" >t(4;14)</text>
<text x="493.80" y="309.80" font-size="7.0" fill="#1e1e1e" stroke="#1e1e1e" stroke-width="0.18" textLength="9.70" lengthAdjust="spacingAndGlyphs" >w/o</text>
<text x="490.20" y="318.00" font-size="7.0" fill="#1e1e1e" stroke="#1e1e1e" stroke-width="0.18" textLength="19.10" lengthAdjust="spacingAndGlyphs" >t(4;14)</text>
<text x="477.00" y="329.50" font-size="8.5" fill="#465473" font-style="italic" stroke="#465473" stroke-width="0.12" textLength="23.50" lengthAdjust="spacingAndGlyphs" >FGFR3</text>
<rect x="0" y="0" width="520" height="1.2" fill="#000"/>
<rect x="0" y="0" width="1.3" height="344" fill="#000"/>
<rect x="518.5" y="0" width="1.5" height="344" fill="#000"/>
<rect x="0" y="342.5" width="520" height="1.5" fill="#000"/>
</g>
</svg>
</body></html>
